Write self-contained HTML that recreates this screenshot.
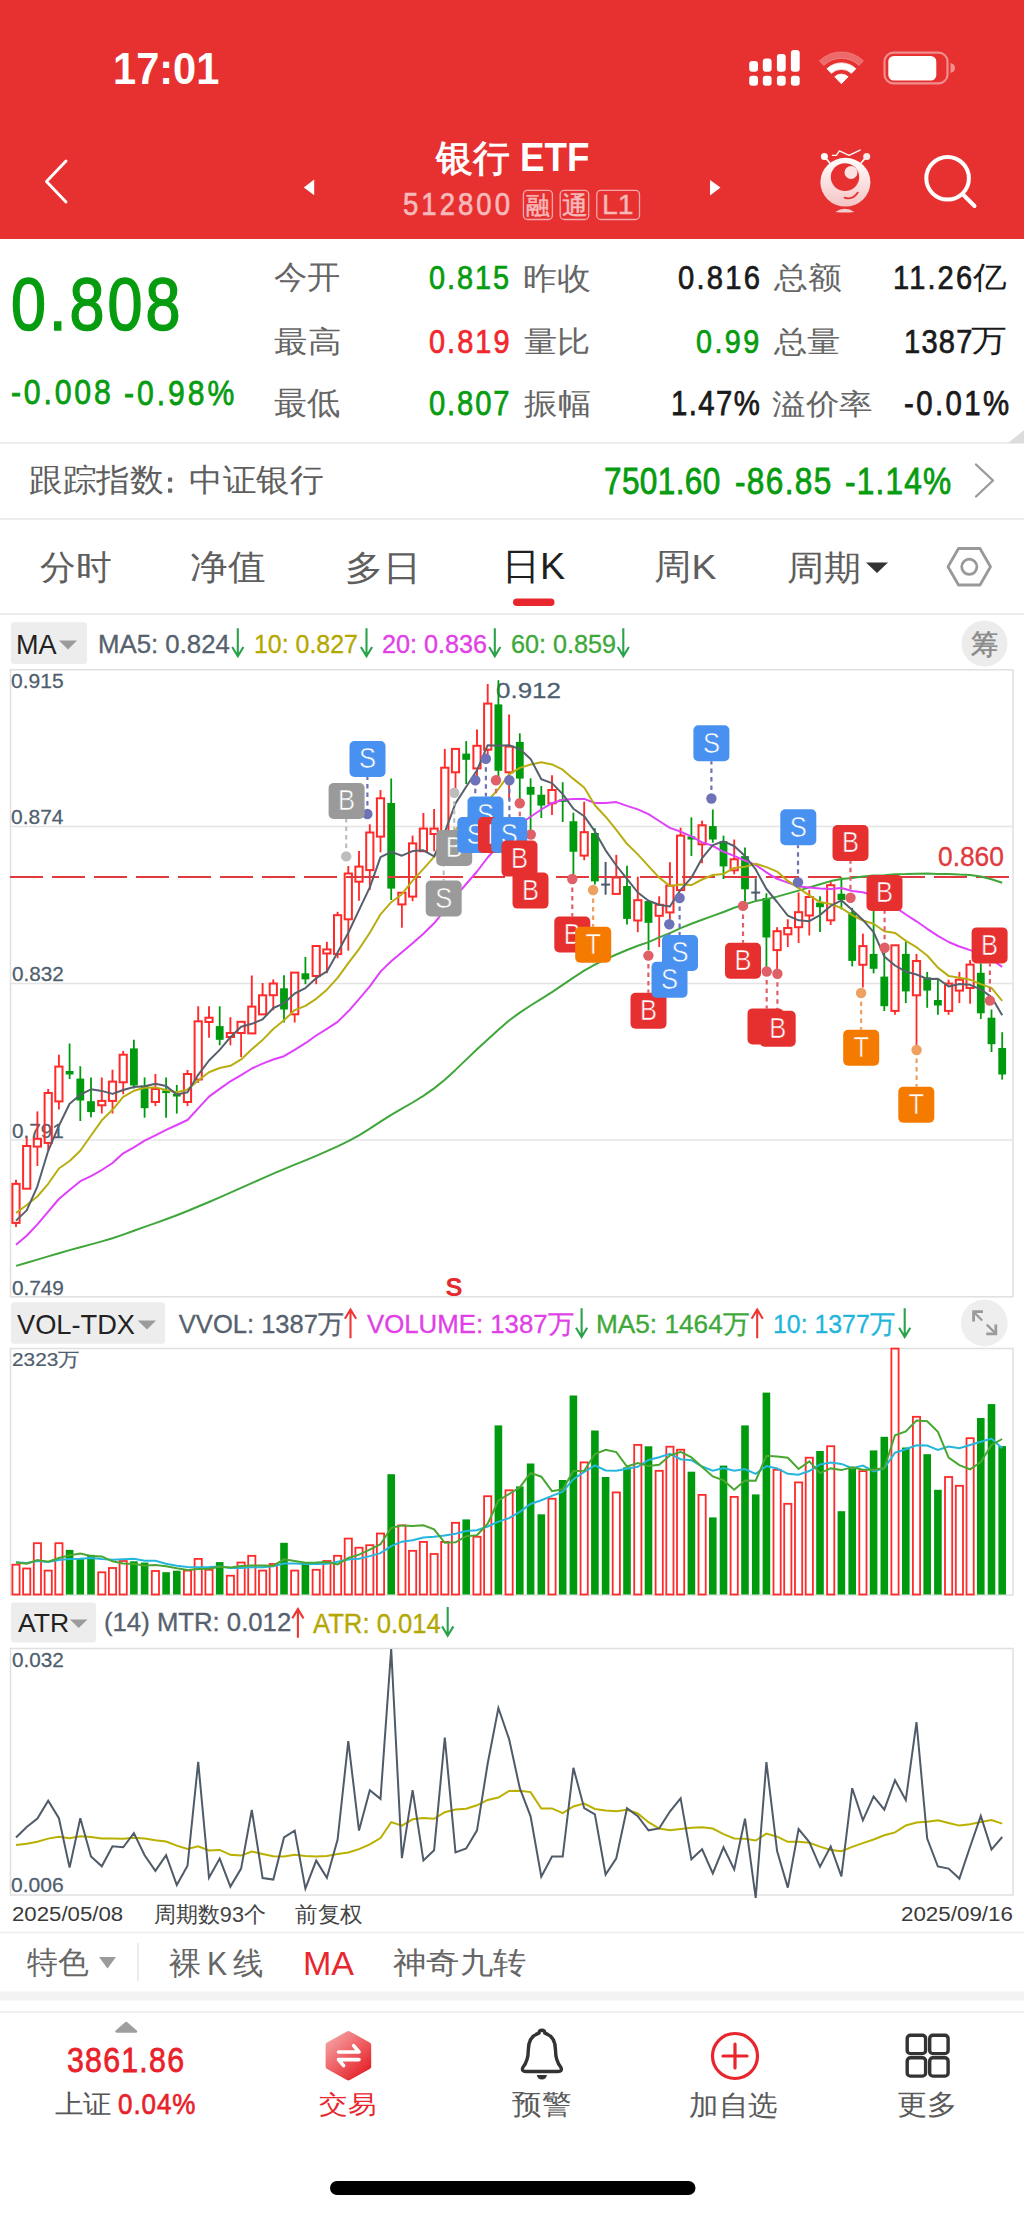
<!DOCTYPE html>
<html><head><meta charset="utf-8"><style>
html,body{margin:0;padding:0;background:#fff;}
body{width:1024px;height:2217px;position:relative;overflow:hidden;font-family:"Liberation Sans",sans-serif;}
.t{position:absolute;white-space:pre;transform-origin:0 0;}
svg{position:absolute;left:0;top:0;}
</style></head><body>
<div style="position:absolute;left:0;top:0;width:1024px;height:239px;background:#e73131"></div>
<svg width="1024" height="2217" viewBox="0 0 1024 2217">
<rect x="749.2" y="61" width="8.8" height="10.7" rx="3" fill="#fff"/>
<rect x="749.2" y="75.7" width="8.8" height="10" rx="3" fill="#fff"/>
<rect x="762.8" y="58.6" width="8.8" height="13.1" rx="3" fill="#fff"/>
<rect x="762.8" y="75.7" width="8.8" height="10" rx="3" fill="#fff"/>
<rect x="776.9" y="54.1" width="8.8" height="17.6" rx="3" fill="#fff"/>
<rect x="776.9" y="75.7" width="8.8" height="10" rx="3" fill="#fff"/>
<rect x="790.9" y="49.9" width="8.8" height="21.8" rx="3" fill="#fff"/>
<rect x="790.9" y="75.7" width="8.8" height="10" rx="3" fill="#fff"/>
<path d="M819.31,60.82 A31.8,31.8 0 0 1 863.49,60.82 L858.97,65.50 A25.3,25.3 0 0 0 823.83,65.50 Z" fill="rgba(255,255,255,0.28)" stroke="rgba(255,255,255,0.28)" stroke-width="0.8" stroke-linejoin="round"/>
<path d="M826.95,68.74 A20.8,20.8 0 0 1 855.85,68.74 L851.40,73.34 A14.4,14.4 0 0 0 831.40,73.34 Z" fill="#fff" stroke="#fff" stroke-width="0.8" stroke-linejoin="round"/>
<path d="M834.73,76.79 A9.6,9.6 0 0 1 848.07,76.79 L841.4,83.7 Z" fill="#fff" stroke="#fff" stroke-width="0.8" stroke-linejoin="round"/>
<rect x="884.5" y="52.6" width="63" height="30.8" rx="9" fill="none" stroke="rgba(255,255,255,0.45)" stroke-width="2.2"/>
<rect x="888.3" y="56" width="48" height="24.5" rx="5.5" fill="#fff"/>
<path d="M950.5,63 Q955,64 955,68 Q955,72 950.5,73 Z" fill="rgba(255,255,255,0.45)"/>
<path d="M66,161 L46.5,181.5 L66,202" fill="none" stroke="#fff" stroke-width="2.9" stroke-linecap="round" stroke-linejoin="round"/>
<path d="M303.8,187.4 L314.2,179.6 L314.2,195.3 Z" fill="#fff"/>
<path d="M720.5,187.6 L710,179.9 L710,195.4 Z" fill="#fff"/>
<rect x="523.4" y="190.3" width="29.0" height="29.2" rx="4" fill="none" stroke="#f3a9ab" stroke-width="1.3"/>
<rect x="560.2" y="190.3" width="28.5" height="29.2" rx="4" fill="none" stroke="#f3a9ab" stroke-width="1.3"/>
<rect x="596.8000000000001" y="190.3" width="42.7" height="29.2" rx="4" fill="none" stroke="#f3a9ab" stroke-width="1.3"/>
<defs><linearGradient id="rg" x1="0" y1="0" x2="0" y2="1"><stop offset="0" stop-color="#ffffff"/><stop offset="1" stop-color="#f6c3c4"/></linearGradient></defs>
<line x1="824.4" y1="156.4" x2="831" y2="164.5" stroke="#fff" stroke-width="1.7"/><line x1="866.7" y1="156.4" x2="859.8" y2="164.5" stroke="#fff" stroke-width="1.7"/>
<circle cx="824.4" cy="156.4" r="3.5" fill="#fff"/><circle cx="866.7" cy="156.4" r="3.5" fill="#f9eaea"/>
<path d="M831.9,155.4 L836.3,155.4 L839.4,150.9 L849,155.4 L860.6,149.9" fill="none" stroke="#fff" stroke-width="1.3" stroke-linejoin="round"/>
<ellipse cx="845.4" cy="182.2" rx="25" ry="24.4" fill="url(#rg)"/>
<ellipse cx="845" cy="177.1" rx="14.2" ry="13.9" fill="#e73131"/>
<circle cx="851" cy="172.5" r="6.5" fill="#fbe3e3"/>
<path d="M844.5,197.6 Q852.5,200.5 857.8,192.6" fill="none" stroke="#e73131" stroke-width="1.8" stroke-linecap="round"/>
<path d="M835.3,212 Q844.8,205.5 854.4,212 Q844.8,213.2 835.3,212 Z" fill="#f5cdce"/>
<circle cx="947.6" cy="178.3" r="21.3" fill="none" stroke="#fff" stroke-width="4"/>
<line x1="963.5" y1="195" x2="974.5" y2="206" stroke="#fff" stroke-width="4" stroke-linecap="round"/>
<line x1="0" y1="443" x2="1024" y2="443" stroke="#ececec" stroke-width="2"/>
<path d="M1024,430 L1024,443 L1008,443 Z" fill="#dcdcdc"/>
<line x1="0" y1="519" x2="1024" y2="519" stroke="#ececec" stroke-width="2"/>
<rect x="168" y="477.5" width="4.2" height="4.2" rx="0.8" fill="#666"/><rect x="168" y="488.5" width="4.2" height="4.2" rx="0.8" fill="#666"/>
<line x1="0" y1="614" x2="1024" y2="614" stroke="#ececec" stroke-width="1.8"/>
<path d="M976,464.5 L993,480.5 L976,496.5" fill="none" stroke="#9a9a9a" stroke-width="2.4" stroke-linecap="round" stroke-linejoin="round"/>
<rect x="513" y="598.5" width="41.5" height="7.5" rx="3.75" fill="#e8262d"/>
<path d="M866,562.5 L888,562.5 L877,573 Z" fill="#333"/>
<path d="M958.5,548.5 L980,548.5 L990.5,566.8 L980,585 L958.5,585 L948,566.8 Z" fill="none" stroke="#999" stroke-width="2.8" stroke-linejoin="round"/>
<circle cx="969.3" cy="566.8" r="7.6" fill="none" stroke="#999" stroke-width="2.8"/>
<rect x="11" y="622.3" width="76" height="41.8" rx="3" fill="#ededed"/>
<path d="M59,640.5 L77,640.5 L68,649.5 Z" fill="#9b9b9b"/>
<circle cx="984.5" cy="643.5" r="23" fill="#ececec"/>
<path d="M237.8,628.3 L237.8,656.0 M232.20000000000002,647.0 L237.8,656.3 L243.4,647.0" fill="none" stroke="#2aa24a" stroke-width="2.1"/>
<path d="M366.5,628.3 L366.5,656.0 M360.9,647.0 L366.5,656.3 L372.1,647.0" fill="none" stroke="#2aa24a" stroke-width="2.1"/>
<path d="M494.8,628.3 L494.8,656.0 M489.2,647.0 L494.8,656.3 L500.40000000000003,647.0" fill="none" stroke="#2aa24a" stroke-width="2.1"/>
<path d="M623.3,628.3 L623.3,656.0 M617.6999999999999,647.0 L623.3,656.3 L628.9,647.0" fill="none" stroke="#2aa24a" stroke-width="2.1"/>
<rect x="11" y="1302.3" width="154" height="41.5" rx="3" fill="#ededed"/>
<path d="M137.8,1320.5 L156,1320.5 L147,1329.5 Z" fill="#9b9b9b"/>
<path d="M350.5,1338.2 L350.5,1309.8 M344.9,1318.8 L350.5,1309.5 L356.1,1318.8" fill="none" stroke="#f03535" stroke-width="2.1"/>
<path d="M581.6,1308.3 L581.6,1336.7 M576.0,1327.7 L581.6,1337.0 L587.2,1327.7" fill="none" stroke="#2aa24a" stroke-width="2.1"/>
<path d="M757.2,1338.2 L757.2,1309.8 M751.6,1318.8 L757.2,1309.5 L762.8000000000001,1318.8" fill="none" stroke="#f03535" stroke-width="2.1"/>
<path d="M904.7,1308.3 L904.7,1336.7 M899.1,1327.7 L904.7,1337.0 L910.3000000000001,1327.7" fill="none" stroke="#2aa24a" stroke-width="2.1"/>
<circle cx="984.3" cy="1323" r="23.4" fill="#eeeeee"/>
<path d="M974,1312.2 L982.2,1320.6 M994.9,1332.6 L986.7,1324.6" fill="none" stroke="#9a9a9a" stroke-width="2.2"/>
<path d="M973.6,1321.4 L973.6,1311.6 L983,1311.6 M986.2,1333.8 L995.8,1333.8 L995.8,1324.4" fill="none" stroke="#9a9a9a" stroke-width="2.8"/>
<rect x="11" y="1602.5" width="85" height="40" rx="3" fill="#ededed"/>
<path d="M70,1619.5 L87.5,1619.5 L78.7,1628 Z" fill="#9b9b9b"/>
<path d="M297.9,1637.8 L297.9,1609.4 M292.29999999999995,1618.4 L297.9,1609.1000000000001 L303.5,1618.4" fill="none" stroke="#f03535" stroke-width="2.1"/>
<path d="M447.7,1607 L447.7,1635.4 M442.09999999999997,1626.4 L447.7,1635.7 L453.3,1626.4" fill="none" stroke="#2aa24a" stroke-width="2.1"/>
<line x1="0" y1="1932.5" x2="1024" y2="1932.5" stroke="#ececec" stroke-width="1.5"/>
<path d="M99,1957 L116,1957 L107.5,1968.5 Z" fill="#9b9b9b"/>
<line x1="138" y1="1943" x2="138" y2="1981" stroke="#e6e6e6" stroke-width="1.5"/>
<rect x="0" y="1991.5" width="1024" height="9" fill="#f3f3f3"/>
<line x1="0" y1="2012" x2="1024" y2="2012" stroke="#efefef" stroke-width="2"/>
<path d="M116.5,2031.5 L136,2031.5 L126.2,2023 Z" fill="#9e9e9e" stroke="#9e9e9e" stroke-width="2.5" stroke-linejoin="round"/>
<defs><linearGradient id="tg" x1="0.15" y1="0.1" x2="0.85" y2="0.95"><stop offset="0" stop-color="#f39597"/><stop offset="0.5" stop-color="#ee5d61"/><stop offset="1" stop-color="#e4262c"/></linearGradient></defs>
<path d="M348.4,2034 L368.2,2045.2 L368.2,2066.5 L348.4,2077.5 L328.6,2066.5 L328.6,2045.2 Z" fill="url(#tg)" stroke="url(#tg)" stroke-width="6" stroke-linejoin="round"/>
<path d="M338.5,2052 L359,2052 L353.6,2045.6 M359,2059.6 L338.5,2059.6 L343.6,2065.6" fill="none" stroke="#fff" stroke-width="3.6" stroke-linecap="round" stroke-linejoin="round"/>
<path d="M526,2071.5 L558,2071.5 Q562.5,2071.5 561,2067.5 Q555.5,2061 555.5,2050 Q555.5,2036.5 544.8,2033.2 Q544.8,2030.3 541.9,2030.3 Q539,2030.3 539,2033.2 Q528.3,2036.5 528.3,2050 Q528.3,2061 522.8,2067.5 Q521.3,2071.5 526,2071.5 Z" fill="none" stroke="#333" stroke-width="3.4" stroke-linejoin="round"/>
<path d="M536.8,2075 L547,2075 Q546,2079.5 541.9,2079.5 Q537.8,2079.5 536.8,2075 Z" fill="#333"/>
<circle cx="735" cy="2056" r="22.5" fill="none" stroke="#e8262d" stroke-width="3.2"/>
<path d="M735,2044 L735,2068 M723,2056 L747,2056" stroke="#e8262d" stroke-width="3.2" stroke-linecap="round"/>
<rect x="907.2" y="2035.2" width="18.4" height="18.4" rx="3.2" fill="none" stroke="#333" stroke-width="3.4"/>
<rect x="929.7" y="2035.2" width="18.4" height="18.4" rx="3.2" fill="none" stroke="#333" stroke-width="3.4"/>
<rect x="907.2" y="2057.7" width="18.4" height="18.4" rx="3.2" fill="none" stroke="#333" stroke-width="3.4"/>
<rect x="929.7" y="2057.7" width="18.4" height="18.4" rx="3.2" fill="none" stroke="#333" stroke-width="3.4"/>
<rect x="330" y="2181" width="365.5" height="14" rx="7" fill="#000"/>
</svg>
<div class="t" style="left:112.50px;top:46.22px;font-size:45.21px;line-height:45.21px;color:#fff;font-weight:700;transform:scaleX(0.9200);">17:01</div>
<div class="t" style="left:436.46px;top:139.61px;font-size:37.00px;line-height:37.00px;color:#fff;font-weight:400;transform:scaleX(0.9940);-webkit-text-stroke:0.9px #fff;">银行</div>
<div class="t" style="left:519.80px;top:137.84px;font-size:39.72px;line-height:39.72px;color:#fff;font-weight:700;transform:scaleX(0.9243);">ETF</div>
<div class="t" style="left:402.90px;top:187.58px;font-size:32.11px;line-height:32.11px;color:#f7b9ba;font-weight:400;transform:scaleX(0.8568);letter-spacing:3.55px;-webkit-text-stroke:0.71px #f7b9ba;">512800</div>
<div class="t" style="left:525.52px;top:193.38px;font-size:25.00px;line-height:25.00px;color:#f7b9ba;font-weight:400;transform:scaleX(0.9501);-webkit-text-stroke:0.5px #f7b9ba;">融</div>
<div class="t" style="left:561.98px;top:193.00px;font-size:25.00px;line-height:25.00px;color:#f7b9ba;font-weight:400;transform:scaleX(1.0323);-webkit-text-stroke:0.5px #f7b9ba;">通</div>
<div class="t" style="left:601.73px;top:190.59px;font-size:27.54px;line-height:27.54px;color:#f7b9ba;font-weight:400;transform:scaleX(1.0323);-webkit-text-stroke:0.33px #f7b9ba;">L1</div>
<div class="t" style="left:11.37px;top:269.01px;font-size:73.24px;line-height:73.24px;color:#079c10;font-weight:400;transform:scaleX(0.8574);letter-spacing:3.58px;-webkit-text-stroke:1.61px #079c10;">0.808</div>
<div class="t" style="left:11.29px;top:373.72px;font-size:35.21px;line-height:35.21px;color:#079c10;font-weight:400;transform:scaleX(0.8600);letter-spacing:3.24px;-webkit-text-stroke:0.77px #079c10;">-0.008</div>
<div class="t" style="left:123.79px;top:374.72px;font-size:35.21px;line-height:35.21px;color:#079c10;font-weight:400;transform:scaleX(0.8561);letter-spacing:3.46px;-webkit-text-stroke:0.77px #079c10;">-0.98%</div>
<div class="t" style="left:273.65px;top:260.71px;font-size:32.29px;line-height:32.29px;color:#666666;font-weight:400;transform:scaleX(1.0404);">今开</div>
<div class="t" style="left:428.63px;top:261.43px;font-size:33.80px;line-height:33.80px;color:#079c10;font-weight:400;transform:scaleX(0.8546);letter-spacing:2.30px;-webkit-text-stroke:0.74px #079c10;">0.815</div>
<div class="t" style="left:273.64px;top:327.05px;font-size:30.30px;line-height:30.30px;color:#666666;font-weight:400;transform:scaleX(1.1204);">最高</div>
<div class="t" style="left:428.63px;top:325.43px;font-size:33.80px;line-height:33.80px;color:#f0282d;font-weight:400;transform:scaleX(0.8546);letter-spacing:2.39px;-webkit-text-stroke:0.74px #f0282d;">0.819</div>
<div class="t" style="left:273.65px;top:387.31px;font-size:32.26px;line-height:32.26px;color:#666666;font-weight:400;transform:scaleX(1.0362);">最低</div>
<div class="t" style="left:428.63px;top:386.13px;font-size:34.15px;line-height:34.15px;color:#079c10;font-weight:400;transform:scaleX(0.8546);letter-spacing:2.18px;-webkit-text-stroke:0.75px #079c10;">0.807</div>
<div class="t" style="left:522.53px;top:262.75px;font-size:31.25px;line-height:31.25px;color:#666666;font-weight:400;transform:scaleX(1.0963);">昨收</div>
<div class="t" style="left:677.63px;top:261.43px;font-size:33.80px;line-height:33.80px;color:#1a1a1a;font-weight:400;transform:scaleX(0.8644);letter-spacing:2.58px;-webkit-text-stroke:0.74px #1a1a1a;">0.816</div>
<div class="t" style="left:523.92px;top:327.15px;font-size:30.21px;line-height:30.21px;color:#666666;font-weight:400;transform:scaleX(1.1052);">量比</div>
<div class="t" style="left:695.64px;top:325.43px;font-size:33.80px;line-height:33.80px;color:#079c10;font-weight:400;transform:scaleX(0.8517);letter-spacing:2.84px;-webkit-text-stroke:0.74px #079c10;">0.99</div>
<div class="t" style="left:524.22px;top:389.04px;font-size:30.21px;line-height:30.21px;color:#666666;font-weight:400;transform:scaleX(1.1167);">振幅</div>
<div class="t" style="left:670.70px;top:386.13px;font-size:34.15px;line-height:34.15px;color:#1a1a1a;font-weight:400;transform:scaleX(0.8590);letter-spacing:1.62px;-webkit-text-stroke:0.75px #1a1a1a;">1.47%</div>
<div class="t" style="left:773.83px;top:263.00px;font-size:30.00px;line-height:30.00px;color:#666666;font-weight:400;transform:scaleX(1.1269);">总额</div>
<div class="t" style="left:773.83px;top:327.15px;font-size:29.90px;line-height:29.90px;color:#666666;font-weight:400;transform:scaleX(1.1082);">总量</div>
<div class="t" style="left:772.16px;top:389.25px;font-size:29.29px;line-height:29.29px;color:#666666;font-weight:400;transform:scaleX(1.1576);">溢价率</div>
<div class="t" style="left:892.97px;top:261.43px;font-size:33.80px;line-height:33.80px;color:#1a1a1a;font-weight:400;transform:scaleX(0.8600);letter-spacing:2.47px;-webkit-text-stroke:0.74px #1a1a1a;">11.26</div>
<div class="t" style="left:973.34px;top:261.97px;font-size:31.00px;line-height:31.00px;color:#1a1a1a;font-weight:400;transform:scaleX(1.0814);">亿</div>
<div class="t" style="left:903.97px;top:325.43px;font-size:33.80px;line-height:33.80px;color:#1a1a1a;font-weight:400;transform:scaleX(0.8600);letter-spacing:1.44px;-webkit-text-stroke:0.74px #1a1a1a;">1387</div>
<div class="t" style="left:971.13px;top:324.76px;font-size:31.00px;line-height:31.00px;color:#1a1a1a;font-weight:400;transform:scaleX(1.1556);">万</div>
<div class="t" style="left:903.82px;top:386.13px;font-size:34.15px;line-height:34.15px;color:#1a1a1a;font-weight:400;transform:scaleX(0.8601);letter-spacing:2.78px;-webkit-text-stroke:0.75px #1a1a1a;">-0.01%</div>
<div class="t" style="left:28.52px;top:463.89px;font-size:32.00px;line-height:32.00px;color:#5e5e5e;font-weight:400;transform:scaleX(1.0527);">跟踪指数</div>
<div class="t" style="left:189.07px;top:463.89px;font-size:32.00px;line-height:32.00px;color:#5e5e5e;font-weight:400;transform:scaleX(1.0504);">中证银行</div>
<div class="t" style="left:603.81px;top:462.64px;font-size:37.04px;line-height:37.04px;color:#079c10;font-weight:400;transform:scaleX(0.8525);letter-spacing:0.41px;-webkit-text-stroke:0.81px #079c10;">7501.60</div>
<div class="t" style="left:735.33px;top:462.64px;font-size:37.04px;line-height:37.04px;color:#079c10;font-weight:400;transform:scaleX(0.8528);letter-spacing:1.56px;-webkit-text-stroke:0.81px #079c10;">-86.85</div>
<div class="t" style="left:845.23px;top:462.64px;font-size:37.04px;line-height:37.04px;color:#079c10;font-weight:400;transform:scaleX(0.8551);letter-spacing:1.39px;-webkit-text-stroke:0.81px #079c10;">-1.14%</div>
<div class="t" style="left:39.64px;top:550.32px;font-size:34.02px;line-height:34.02px;color:#5e5e5e;font-weight:400;transform:scaleX(1.0498);">分时</div>
<div class="t" style="left:190.37px;top:549.61px;font-size:34.74px;line-height:34.74px;color:#5e5e5e;font-weight:400;transform:scaleX(1.0760);">净值</div>
<div class="t" style="left:344.58px;top:550.96px;font-size:34.74px;line-height:34.74px;color:#5e5e5e;font-weight:400;transform:scaleX(1.0919);">多日</div>
<div class="t" style="left:501.83px;top:549.07px;font-size:36.67px;line-height:36.67px;color:#1f1f1f;font-weight:400;transform:scaleX(1.0298);">日K</div>
<div class="t" style="left:653.86px;top:549.85px;font-size:35.87px;line-height:35.87px;color:#5e5e5e;font-weight:400;transform:scaleX(1.0436);">周K</div>
<div class="t" style="left:787.40px;top:550.96px;font-size:34.74px;line-height:34.74px;color:#5e5e5e;font-weight:400;transform:scaleX(1.0608);">周期</div>
<div class="t" style="left:15.73px;top:632.09px;font-size:26.96px;line-height:26.96px;color:#222;font-weight:400;transform:scaleX(1.0038);">MA</div>
<div class="t" style="left:97.74px;top:631.47px;font-size:26.20px;line-height:26.20px;color:#56616e;font-weight:400;transform:scaleX(0.9848);-webkit-text-stroke:0.32px #56616e;">MA5: 0.824</div>
<div class="t" style="left:254.06px;top:631.47px;font-size:26.20px;line-height:26.20px;color:#b3a800;font-weight:400;transform:scaleX(0.9509);-webkit-text-stroke:0.32px #b3a800;">10: 0.827</div>
<div class="t" style="left:381.74px;top:631.47px;font-size:26.20px;line-height:26.20px;color:#e040e6;font-weight:400;transform:scaleX(0.9627);-webkit-text-stroke:0.32px #e040e6;">20: 0.836</div>
<div class="t" style="left:510.74px;top:631.47px;font-size:26.20px;line-height:26.20px;color:#3ea83a;font-weight:400;transform:scaleX(0.9622);-webkit-text-stroke:0.32px #3ea83a;">60: 0.859</div>
<div class="t" style="left:971.32px;top:631.01px;font-size:28.00px;line-height:28.00px;color:#8a8a8a;font-weight:400;transform:scaleX(0.9706);-webkit-text-stroke:0.5px #8a8a8a;">筹</div>
<div class="t" style="left:11.17px;top:669.83px;font-size:21.13px;line-height:21.13px;color:#4f5e6e;font-weight:400;transform:scaleX(0.9967);-webkit-text-stroke:0.26px #4f5e6e;">0.915</div>
<div class="t" style="left:11.17px;top:806.33px;font-size:21.13px;line-height:21.13px;color:#4f5e6e;font-weight:400;transform:scaleX(0.9926);-webkit-text-stroke:0.26px #4f5e6e;">0.874</div>
<div class="t" style="left:12.17px;top:962.83px;font-size:21.13px;line-height:21.13px;color:#4f5e6e;font-weight:400;transform:scaleX(0.9816);-webkit-text-stroke:0.26px #4f5e6e;">0.832</div>
<div class="t" style="left:12.17px;top:1119.83px;font-size:21.13px;line-height:21.13px;color:#4f5e6e;font-weight:400;transform:scaleX(0.9816);-webkit-text-stroke:0.26px #4f5e6e;">0.791</div>
<div class="t" style="left:12.17px;top:1276.83px;font-size:21.13px;line-height:21.13px;color:#4f5e6e;font-weight:400;transform:scaleX(0.9816);-webkit-text-stroke:0.26px #4f5e6e;">0.749</div>
<div class="t" style="left:496.32px;top:679.73px;font-size:21.83px;line-height:21.83px;color:#4f5e6e;font-weight:400;transform:scaleX(1.1894);-webkit-text-stroke:0.26px #4f5e6e;">0.912</div>
<div class="t" style="left:938.41px;top:842.98px;font-size:27.46px;line-height:27.46px;color:#e0393e;font-weight:400;transform:scaleX(0.9595);-webkit-text-stroke:0.33px #e0393e;">0.860</div>
<div class="t" style="left:16.90px;top:1312.14px;font-size:27.04px;line-height:27.04px;color:#222;font-weight:400;transform:scaleX(1.0074);">VOL-TDX</div>
<div class="t" style="left:178.80px;top:1312.20px;font-size:25.56px;line-height:25.56px;color:#56616e;font-weight:400;-webkit-text-stroke:0.31px #56616e;">VVOL: 1387万</div>
<div class="t" style="left:366.80px;top:1312.20px;font-size:25.56px;line-height:25.56px;color:#e040e6;font-weight:400;transform:scaleX(1.0093);-webkit-text-stroke:0.31px #e040e6;">VOLUME: 1387万</div>
<div class="t" style="left:595.80px;top:1312.20px;font-size:25.56px;line-height:25.56px;color:#3ea83a;font-weight:400;transform:scaleX(1.0254);-webkit-text-stroke:0.31px #3ea83a;">MA5: 1464万</div>
<div class="t" style="left:773.36px;top:1312.20px;font-size:25.56px;line-height:25.56px;color:#22b5db;font-weight:400;transform:scaleX(0.9728);-webkit-text-stroke:0.31px #22b5db;">10: 1377万</div>
<div class="t" style="left:11.76px;top:1351.03px;font-size:18.56px;line-height:18.56px;color:#4f5e6e;font-weight:400;transform:scaleX(1.1212);-webkit-text-stroke:0.22px #4f5e6e;">2323万</div>
<div class="t" style="left:17.50px;top:1610.09px;font-size:26.06px;line-height:26.06px;color:#222;font-weight:400;transform:scaleX(1.0187);">ATR</div>
<div class="t" style="left:103.85px;top:1609.60px;font-size:25.00px;line-height:25.00px;color:#56616e;font-weight:400;transform:scaleX(1.0287);-webkit-text-stroke:0.30px #56616e;">(14) MTR: 0.012</div>
<div class="t" style="left:312.70px;top:1610.32px;font-size:27.18px;line-height:27.18px;color:#b3a800;font-weight:400;transform:scaleX(0.9439);-webkit-text-stroke:0.33px #b3a800;">ATR: 0.014</div>
<div class="t" style="left:12.17px;top:1648.83px;font-size:21.13px;line-height:21.13px;color:#4f5e6e;font-weight:400;transform:scaleX(0.9816);-webkit-text-stroke:0.26px #4f5e6e;">0.032</div>
<div class="t" style="left:11.17px;top:1873.83px;font-size:21.13px;line-height:21.13px;color:#4f5e6e;font-weight:400;transform:scaleX(0.9967);-webkit-text-stroke:0.26px #4f5e6e;">0.006</div>
<div class="t" style="left:11.79px;top:1903.57px;font-size:20.27px;line-height:20.27px;color:#3a3a3a;font-weight:400;transform:scaleX(1.0953);">2025/05/08</div>
<div class="t" style="left:153.85px;top:1904.35px;font-size:21.65px;line-height:21.65px;color:#444;font-weight:400;">周期数93个</div>
<div class="t" style="left:294.77px;top:1903.83px;font-size:22.40px;line-height:22.40px;color:#444;font-weight:400;transform:scaleX(1.0230);">前复权</div>
<div class="t" style="left:900.88px;top:1903.57px;font-size:20.27px;line-height:20.27px;color:#3a3a3a;font-weight:400;transform:scaleX(1.1033);">2025/09/16</div>
<div class="t" style="left:26.90px;top:1946.56px;font-size:31.25px;line-height:31.25px;color:#666;font-weight:400;transform:scaleX(0.9954);">特色</div>
<div class="t" style="left:168.87px;top:1948.00px;font-size:31.00px;line-height:31.00px;color:#666;font-weight:400;transform:scaleX(1.0372);">裸</div>
<div class="t" style="left:207.19px;top:1948.46px;font-size:32.75px;line-height:32.75px;color:#666;font-weight:400;transform:scaleX(0.9219);">K</div>
<div class="t" style="left:233.39px;top:1948.00px;font-size:31.00px;line-height:31.00px;color:#666;font-weight:400;transform:scaleX(0.9783);">线</div>
<div class="t" style="left:303.28px;top:1948.46px;font-size:32.75px;line-height:32.75px;color:#e8262d;font-weight:400;transform:scaleX(1.0387);">MA</div>
<div class="t" style="left:393.08px;top:1948.20px;font-size:30.30px;line-height:30.30px;color:#666;font-weight:400;transform:scaleX(1.1109);">神奇九转</div>
<div class="t" style="left:66.59px;top:2042.22px;font-size:35.21px;line-height:35.21px;color:#e8212a;font-weight:400;transform:scaleX(0.8600);letter-spacing:1.46px;-webkit-text-stroke:0.77px #e8212a;">3861.86</div>
<div class="t" style="left:54.68px;top:2091.48px;font-size:26.11px;line-height:26.11px;color:#555;font-weight:400;transform:scaleX(1.0957);">上证</div>
<div class="t" style="left:118.22px;top:2089.46px;font-size:30.28px;line-height:30.28px;color:#e8212a;font-weight:400;transform:scaleX(0.8600);letter-spacing:1.08px;-webkit-text-stroke:0.67px #e8212a;">0.04%</div>
<div class="t" style="left:319.43px;top:2093.00px;font-size:24.75px;line-height:24.75px;color:#e8262d;font-weight:400;transform:scaleX(1.1426);">交易</div>
<div class="t" style="left:511.70px;top:2091.38px;font-size:28.12px;line-height:28.12px;color:#5a5a5a;font-weight:400;transform:scaleX(1.0559);">预警</div>
<div class="t" style="left:689.11px;top:2091.94px;font-size:28.12px;line-height:28.12px;color:#5a5a5a;font-weight:400;transform:scaleX(1.0549);">加自选</div>
<div class="t" style="left:896.91px;top:2090.67px;font-size:27.55px;line-height:27.55px;color:#5a5a5a;font-weight:400;transform:scaleX(1.0757);">更多</div>
<svg width="1024" height="2217" viewBox="0 0 1024 2217">
<line x1="10" y1="826.5" x2="1013" y2="826.5" stroke="#e4e4e4" stroke-width="1.5"/>
<line x1="10" y1="983.5" x2="1013" y2="983.5" stroke="#e4e4e4" stroke-width="1.5"/>
<line x1="10" y1="1140" x2="1013" y2="1140" stroke="#e4e4e4" stroke-width="1.5"/>
<rect x="10.5" y="669.8" width="1002.5" height="627" fill="none" stroke="#e0e0e0" stroke-width="1.5"/>
<line x1="16.0" y1="1179.8" x2="16.0" y2="1183.9" stroke="#ff2a2a" stroke-width="1.9"/>
<line x1="16.0" y1="1222.9" x2="16.0" y2="1227" stroke="#ff2a2a" stroke-width="1.8"/>
<rect x="12.4" y="1183.9" width="7.2" height="39.0" fill="none" stroke="#ff2a2a" stroke-width="2"/>
<line x1="26.7" y1="1137.4" x2="26.7" y2="1146" stroke="#ff2a2a" stroke-width="1.9"/>
<line x1="26.7" y1="1188.7" x2="26.7" y2="1188.7" stroke="#ff2a2a" stroke-width="1.8"/>
<rect x="23.1" y="1146" width="7.2" height="42.7" fill="none" stroke="#ff2a2a" stroke-width="2"/>
<line x1="37.4" y1="1111.4" x2="37.4" y2="1138.8" stroke="#ff2a2a" stroke-width="1.9"/>
<line x1="37.4" y1="1146.6" x2="37.4" y2="1166" stroke="#ff2a2a" stroke-width="1.8"/>
<rect x="33.8" y="1138.8" width="7.2" height="7.8" fill="none" stroke="#ff2a2a" stroke-width="2"/>
<line x1="48.2" y1="1088.9" x2="48.2" y2="1093" stroke="#ff2a2a" stroke-width="1.9"/>
<line x1="48.2" y1="1142.9" x2="48.2" y2="1150.4" stroke="#ff2a2a" stroke-width="1.8"/>
<rect x="44.6" y="1093" width="7.2" height="49.9" fill="none" stroke="#ff2a2a" stroke-width="2"/>
<line x1="58.9" y1="1054.7" x2="58.9" y2="1066.6" stroke="#ff2a2a" stroke-width="1.9"/>
<line x1="58.9" y1="1101.4" x2="58.9" y2="1109.4" stroke="#ff2a2a" stroke-width="1.8"/>
<rect x="55.3" y="1066.6" width="7.2" height="34.8" fill="none" stroke="#ff2a2a" stroke-width="2"/>
<line x1="69.6" y1="1043.5" x2="69.6" y2="1079" stroke="#009a0e" stroke-width="1.8"/>
<rect x="65.7" y="1071" width="7.8" height="3.5" fill="#009a0e"/>
<line x1="80.3" y1="1066.3" x2="80.3" y2="1121" stroke="#009a0e" stroke-width="1.8"/>
<rect x="76.4" y="1078.6" width="7.8" height="21.9" fill="#009a0e"/>
<line x1="91.0" y1="1077.5" x2="91.0" y2="1117.3" stroke="#009a0e" stroke-width="1.8"/>
<rect x="87.1" y="1101.2" width="7.8" height="10.9" fill="#009a0e"/>
<line x1="101.8" y1="1077.5" x2="101.8" y2="1100.9" stroke="#ff2a2a" stroke-width="1.9"/>
<line x1="101.8" y1="1105.3" x2="101.8" y2="1113.5" stroke="#ff2a2a" stroke-width="1.8"/>
<rect x="98.2" y="1100.9" width="7.2" height="4.4" fill="none" stroke="#ff2a2a" stroke-width="2"/>
<line x1="112.5" y1="1069.7" x2="112.5" y2="1081.6" stroke="#ff2a2a" stroke-width="1.9"/>
<line x1="112.5" y1="1100.9" x2="112.5" y2="1113.5" stroke="#ff2a2a" stroke-width="1.8"/>
<rect x="108.9" y="1081.6" width="7.2" height="19.3" fill="none" stroke="#ff2a2a" stroke-width="2"/>
<line x1="123.2" y1="1050.9" x2="123.2" y2="1054.7" stroke="#ff2a2a" stroke-width="1.9"/>
<line x1="123.2" y1="1082.3" x2="123.2" y2="1094.3" stroke="#ff2a2a" stroke-width="1.8"/>
<rect x="119.6" y="1054.7" width="7.2" height="27.6" fill="none" stroke="#ff2a2a" stroke-width="2"/>
<line x1="133.9" y1="1039.7" x2="133.9" y2="1088.6" stroke="#009a0e" stroke-width="1.8"/>
<rect x="130.0" y="1048.4" width="7.8" height="37.1" fill="#009a0e"/>
<line x1="144.6" y1="1077.4" x2="144.6" y2="1117.7" stroke="#009a0e" stroke-width="1.8"/>
<rect x="140.7" y="1085.6" width="7.8" height="22.6" fill="#009a0e"/>
<line x1="155.4" y1="1074" x2="155.4" y2="1089" stroke="#ff2a2a" stroke-width="1.9"/>
<line x1="155.4" y1="1102" x2="155.4" y2="1106.1" stroke="#ff2a2a" stroke-width="1.8"/>
<rect x="151.8" y="1089" width="7.2" height="13.0" fill="none" stroke="#ff2a2a" stroke-width="2"/>
<line x1="166.1" y1="1077.4" x2="166.1" y2="1117.7" stroke="#009a0e" stroke-width="1.8"/>
<rect x="162.2" y="1090.4" width="7.8" height="2.7" fill="#009a0e"/>
<line x1="176.8" y1="1084.9" x2="176.8" y2="1113.6" stroke="#009a0e" stroke-width="1.8"/>
<rect x="172.9" y="1093.8" width="7.8" height="2.7" fill="#009a0e"/>
<line x1="187.5" y1="1069.9" x2="187.5" y2="1074" stroke="#ff2a2a" stroke-width="1.9"/>
<line x1="187.5" y1="1102" x2="187.5" y2="1106.1" stroke="#ff2a2a" stroke-width="1.8"/>
<rect x="183.9" y="1074" width="7.2" height="28.0" fill="none" stroke="#ff2a2a" stroke-width="2"/>
<line x1="198.2" y1="1006.3" x2="198.2" y2="1021.3" stroke="#ff2a2a" stroke-width="1.9"/>
<line x1="198.2" y1="1079.5" x2="198.2" y2="1082.9" stroke="#ff2a2a" stroke-width="1.8"/>
<rect x="194.6" y="1021.3" width="7.2" height="58.2" fill="none" stroke="#ff2a2a" stroke-width="2"/>
<line x1="209.0" y1="1006.3" x2="209.0" y2="1017.7" stroke="#ff2a2a" stroke-width="1.9"/>
<line x1="209.0" y1="1022" x2="209.0" y2="1037.8" stroke="#ff2a2a" stroke-width="1.8"/>
<rect x="205.4" y="1017.7" width="7.2" height="4.3" fill="none" stroke="#ff2a2a" stroke-width="2"/>
<line x1="219.7" y1="1006.3" x2="219.7" y2="1045.3" stroke="#009a0e" stroke-width="1.8"/>
<rect x="215.8" y="1026.1" width="7.8" height="13.7" fill="#009a0e"/>
<line x1="230.4" y1="1017.2" x2="230.4" y2="1033" stroke="#ff2a2a" stroke-width="1.9"/>
<line x1="230.4" y1="1037" x2="230.4" y2="1045.3" stroke="#ff2a2a" stroke-width="1.8"/>
<rect x="226.8" y="1033" width="7.2" height="4.0" fill="none" stroke="#ff2a2a" stroke-width="2"/>
<line x1="241.1" y1="1021.8" x2="241.1" y2="1021.8" stroke="#ff2a2a" stroke-width="1.9"/>
<line x1="241.1" y1="1033" x2="241.1" y2="1056.9" stroke="#ff2a2a" stroke-width="1.8"/>
<rect x="237.5" y="1021.8" width="7.2" height="11.2" fill="none" stroke="#ff2a2a" stroke-width="2"/>
<line x1="251.8" y1="975.5" x2="251.8" y2="1006.6" stroke="#ff2a2a" stroke-width="1.9"/>
<line x1="251.8" y1="1033.4" x2="251.8" y2="1033.4" stroke="#ff2a2a" stroke-width="1.8"/>
<rect x="248.2" y="1006.6" width="7.2" height="26.8" fill="none" stroke="#ff2a2a" stroke-width="2"/>
<line x1="262.6" y1="983" x2="262.6" y2="995.3" stroke="#ff2a2a" stroke-width="1.9"/>
<line x1="262.6" y1="1014.4" x2="262.6" y2="1014.4" stroke="#ff2a2a" stroke-width="1.8"/>
<rect x="259.0" y="995.3" width="7.2" height="19.1" fill="none" stroke="#ff2a2a" stroke-width="2"/>
<line x1="273.3" y1="979.4" x2="273.3" y2="983.5" stroke="#ff2a2a" stroke-width="1.9"/>
<line x1="273.3" y1="995.2" x2="273.3" y2="1010.2" stroke="#ff2a2a" stroke-width="1.8"/>
<rect x="269.7" y="983.5" width="7.2" height="11.7" fill="none" stroke="#ff2a2a" stroke-width="2"/>
<line x1="284.0" y1="975.3" x2="284.0" y2="1022.5" stroke="#009a0e" stroke-width="1.8"/>
<rect x="280.1" y="988.3" width="7.8" height="21.2" fill="#009a0e"/>
<line x1="294.7" y1="972.6" x2="294.7" y2="972.6" stroke="#ff2a2a" stroke-width="1.9"/>
<line x1="294.7" y1="1014.3" x2="294.7" y2="1022.5" stroke="#ff2a2a" stroke-width="1.8"/>
<rect x="291.1" y="972.6" width="7.2" height="41.7" fill="none" stroke="#ff2a2a" stroke-width="2"/>
<line x1="305.4" y1="956.9" x2="305.4" y2="984.2" stroke="#009a0e" stroke-width="1.8"/>
<rect x="301.5" y="973.3" width="7.8" height="6.1" fill="#009a0e"/>
<line x1="316.2" y1="946" x2="316.2" y2="946" stroke="#ff2a2a" stroke-width="1.9"/>
<line x1="316.2" y1="976" x2="316.2" y2="984.2" stroke="#ff2a2a" stroke-width="1.8"/>
<rect x="312.6" y="946" width="7.2" height="30.0" fill="none" stroke="#ff2a2a" stroke-width="2"/>
<line x1="326.9" y1="941.8" x2="326.9" y2="949.4" stroke="#ff2a2a" stroke-width="1.9"/>
<line x1="326.9" y1="953.5" x2="326.9" y2="973.3" stroke="#ff2a2a" stroke-width="1.8"/>
<rect x="323.3" y="949.4" width="7.2" height="4.1" fill="none" stroke="#ff2a2a" stroke-width="2"/>
<line x1="337.6" y1="911.8" x2="337.6" y2="915.2" stroke="#ff2a2a" stroke-width="1.9"/>
<line x1="337.6" y1="954.1" x2="337.6" y2="958.2" stroke="#ff2a2a" stroke-width="1.8"/>
<rect x="334.0" y="915.2" width="7.2" height="38.9" fill="none" stroke="#ff2a2a" stroke-width="2"/>
<line x1="348.3" y1="866" x2="348.3" y2="873.5" stroke="#ff2a2a" stroke-width="1.9"/>
<line x1="348.3" y1="919.3" x2="348.3" y2="950.7" stroke="#ff2a2a" stroke-width="1.8"/>
<rect x="344.7" y="873.5" width="7.2" height="45.8" fill="none" stroke="#ff2a2a" stroke-width="2"/>
<line x1="359.0" y1="850.9" x2="359.0" y2="866.6" stroke="#ff2a2a" stroke-width="1.9"/>
<line x1="359.0" y1="881.7" x2="359.0" y2="900.8" stroke="#ff2a2a" stroke-width="1.8"/>
<rect x="355.4" y="866.6" width="7.2" height="15.1" fill="none" stroke="#ff2a2a" stroke-width="2"/>
<line x1="369.8" y1="824.3" x2="369.8" y2="832.5" stroke="#ff2a2a" stroke-width="1.9"/>
<line x1="369.8" y1="870.1" x2="369.8" y2="889.9" stroke="#ff2a2a" stroke-width="1.8"/>
<rect x="366.2" y="832.5" width="7.2" height="37.6" fill="none" stroke="#ff2a2a" stroke-width="2"/>
<line x1="380.5" y1="790.1" x2="380.5" y2="798.3" stroke="#ff2a2a" stroke-width="1.9"/>
<line x1="380.5" y1="836.6" x2="380.5" y2="852.3" stroke="#ff2a2a" stroke-width="1.8"/>
<rect x="376.9" y="798.3" width="7.2" height="38.3" fill="none" stroke="#ff2a2a" stroke-width="2"/>
<line x1="391.2" y1="778.5" x2="391.2" y2="900" stroke="#009a0e" stroke-width="1.8"/>
<rect x="387.3" y="803" width="7.8" height="85.6" fill="#009a0e"/>
<line x1="401.9" y1="892.7" x2="401.9" y2="892.7" stroke="#ff2a2a" stroke-width="1.9"/>
<line x1="401.9" y1="904.4" x2="401.9" y2="927.8" stroke="#ff2a2a" stroke-width="1.8"/>
<rect x="398.3" y="892.7" width="7.2" height="11.7" fill="none" stroke="#ff2a2a" stroke-width="2"/>
<line x1="412.6" y1="835.6" x2="412.6" y2="843.4" stroke="#ff2a2a" stroke-width="1.9"/>
<line x1="412.6" y1="896.6" x2="412.6" y2="901.25" stroke="#ff2a2a" stroke-width="1.8"/>
<rect x="409.0" y="843.4" width="7.2" height="53.2" fill="none" stroke="#ff2a2a" stroke-width="2"/>
<line x1="423.4" y1="813" x2="423.4" y2="828.6" stroke="#ff2a2a" stroke-width="1.9"/>
<line x1="423.4" y1="851.25" x2="423.4" y2="851.25" stroke="#ff2a2a" stroke-width="1.8"/>
<rect x="419.8" y="828.6" width="7.2" height="22.6" fill="none" stroke="#ff2a2a" stroke-width="2"/>
<line x1="434.1" y1="809" x2="434.1" y2="828.6" stroke="#ff2a2a" stroke-width="1.9"/>
<line x1="434.1" y1="834" x2="434.1" y2="851.25" stroke="#ff2a2a" stroke-width="1.8"/>
<rect x="430.5" y="828.6" width="7.2" height="5.4" fill="none" stroke="#ff2a2a" stroke-width="2"/>
<line x1="444.8" y1="748.9" x2="444.8" y2="767.7" stroke="#ff2a2a" stroke-width="1.9"/>
<line x1="444.8" y1="831" x2="444.8" y2="835" stroke="#ff2a2a" stroke-width="1.8"/>
<rect x="441.2" y="767.7" width="7.2" height="63.3" fill="none" stroke="#ff2a2a" stroke-width="2"/>
<line x1="455.5" y1="748.9" x2="455.5" y2="748.9" stroke="#ff2a2a" stroke-width="1.9"/>
<line x1="455.5" y1="772.3" x2="455.5" y2="790.3" stroke="#ff2a2a" stroke-width="1.8"/>
<rect x="451.9" y="748.9" width="7.2" height="23.4" fill="none" stroke="#ff2a2a" stroke-width="2"/>
<line x1="466.2" y1="741.1" x2="466.2" y2="784" stroke="#009a0e" stroke-width="1.8"/>
<rect x="462.3" y="753.6" width="7.8" height="6.2" fill="#009a0e"/>
<line x1="477.0" y1="729.4" x2="477.0" y2="745.8" stroke="#ff2a2a" stroke-width="1.9"/>
<line x1="477.0" y1="768.4" x2="477.0" y2="779.4" stroke="#ff2a2a" stroke-width="1.8"/>
<rect x="473.4" y="745.8" width="7.2" height="22.6" fill="none" stroke="#ff2a2a" stroke-width="2"/>
<line x1="487.7" y1="684" x2="487.7" y2="703.6" stroke="#ff2a2a" stroke-width="1.9"/>
<line x1="487.7" y1="749.7" x2="487.7" y2="760" stroke="#ff2a2a" stroke-width="1.8"/>
<rect x="484.1" y="703.6" width="7.2" height="46.1" fill="none" stroke="#ff2a2a" stroke-width="2"/>
<line x1="498.4" y1="680.2" x2="498.4" y2="777.8" stroke="#009a0e" stroke-width="1.8"/>
<rect x="494.5" y="704.4" width="7.8" height="66.4" fill="#009a0e"/>
<line x1="509.1" y1="714.5" x2="509.1" y2="746.6" stroke="#ff2a2a" stroke-width="1.9"/>
<line x1="509.1" y1="772.3" x2="509.1" y2="800" stroke="#ff2a2a" stroke-width="1.8"/>
<rect x="505.5" y="746.6" width="7.2" height="25.7" fill="none" stroke="#ff2a2a" stroke-width="2"/>
<line x1="519.8" y1="733.3" x2="519.8" y2="799.7" stroke="#009a0e" stroke-width="1.8"/>
<rect x="515.9" y="741.9" width="7.8" height="36.7" fill="#009a0e"/>
<line x1="530.6" y1="778.3" x2="530.6" y2="833.75" stroke="#009a0e" stroke-width="1.8"/>
<rect x="526.7" y="786.9" width="7.8" height="7.8" fill="#009a0e"/>
<line x1="541.3" y1="786" x2="541.3" y2="818" stroke="#009a0e" stroke-width="1.8"/>
<rect x="537.4" y="794.7" width="7.8" height="10.9" fill="#009a0e"/>
<line x1="552.0" y1="775.2" x2="552.0" y2="790" stroke="#ff2a2a" stroke-width="1.9"/>
<line x1="552.0" y1="803.3" x2="552.0" y2="815" stroke="#ff2a2a" stroke-width="1.8"/>
<rect x="548.4" y="790" width="7.2" height="13.3" fill="none" stroke="#ff2a2a" stroke-width="2"/>
<line x1="562.7" y1="782.2" x2="562.7" y2="822" stroke="#009a0e" stroke-width="1.8"/>
<rect x="558.8" y="799.4" width="7.8" height="2.5" fill="#009a0e"/>
<line x1="573.4" y1="812.7" x2="573.4" y2="876" stroke="#009a0e" stroke-width="1.8"/>
<rect x="569.5" y="821.25" width="7.8" height="30.5" fill="#009a0e"/>
<line x1="584.2" y1="801.7" x2="584.2" y2="832.2" stroke="#ff2a2a" stroke-width="1.9"/>
<line x1="584.2" y1="855.6" x2="584.2" y2="860.3" stroke="#ff2a2a" stroke-width="1.8"/>
<rect x="580.6" y="832.2" width="7.2" height="23.4" fill="none" stroke="#ff2a2a" stroke-width="2"/>
<line x1="594.9" y1="828.3" x2="594.9" y2="884.5" stroke="#009a0e" stroke-width="1.8"/>
<rect x="591.0" y="833" width="7.8" height="48.4" fill="#009a0e"/>
<line x1="605.6" y1="861.9" x2="605.6" y2="894.7" stroke="#4d5b6a" stroke-width="2"/>
<line x1="601.1" y1="884.6" x2="610.1" y2="884.6" stroke="#4d5b6a" stroke-width="2"/>
<line x1="616.3" y1="854.8" x2="616.3" y2="877.5" stroke="#ff2a2a" stroke-width="1.9"/>
<line x1="616.3" y1="893.9" x2="616.3" y2="893.9" stroke="#ff2a2a" stroke-width="1.8"/>
<rect x="612.7" y="877.5" width="7.2" height="16.4" fill="none" stroke="#ff2a2a" stroke-width="2"/>
<line x1="627.0" y1="865.8" x2="627.0" y2="924.4" stroke="#009a0e" stroke-width="1.8"/>
<rect x="623.1" y="886" width="7.8" height="32.9" fill="#009a0e"/>
<line x1="637.8" y1="876.7" x2="637.8" y2="900.2" stroke="#ff2a2a" stroke-width="1.9"/>
<line x1="637.8" y1="920.5" x2="637.8" y2="932.2" stroke="#ff2a2a" stroke-width="1.8"/>
<rect x="634.2" y="900.2" width="7.2" height="20.3" fill="none" stroke="#ff2a2a" stroke-width="2"/>
<line x1="648.5" y1="901" x2="648.5" y2="950.2" stroke="#009a0e" stroke-width="1.8"/>
<rect x="644.6" y="901" width="7.8" height="21.8" fill="#009a0e"/>
<line x1="659.2" y1="896.25" x2="659.2" y2="904.8" stroke="#ff2a2a" stroke-width="1.9"/>
<line x1="659.2" y1="915.8" x2="659.2" y2="947" stroke="#ff2a2a" stroke-width="1.8"/>
<rect x="655.6" y="904.8" width="7.2" height="11.0" fill="none" stroke="#ff2a2a" stroke-width="2"/>
<line x1="669.9" y1="862.2" x2="669.9" y2="885.7" stroke="#ff2a2a" stroke-width="1.9"/>
<line x1="669.9" y1="912.4" x2="669.9" y2="919.5" stroke="#ff2a2a" stroke-width="1.8"/>
<rect x="666.3" y="885.7" width="7.2" height="26.7" fill="none" stroke="#ff2a2a" stroke-width="2"/>
<line x1="680.6" y1="827.7" x2="680.6" y2="835.6" stroke="#ff2a2a" stroke-width="1.9"/>
<line x1="680.6" y1="890.1" x2="680.6" y2="890.1" stroke="#ff2a2a" stroke-width="1.8"/>
<rect x="677.0" y="835.6" width="7.2" height="54.5" fill="none" stroke="#ff2a2a" stroke-width="2"/>
<line x1="691.4" y1="817.4" x2="691.4" y2="856.1" stroke="#009a0e" stroke-width="1.8"/>
<rect x="687.5" y="836.4" width="7.8" height="3.1" fill="#009a0e"/>
<line x1="702.1" y1="820.6" x2="702.1" y2="825.3" stroke="#ff2a2a" stroke-width="1.9"/>
<line x1="702.1" y1="844.3" x2="702.1" y2="863.2" stroke="#ff2a2a" stroke-width="1.8"/>
<rect x="698.5" y="825.3" width="7.2" height="19.0" fill="none" stroke="#ff2a2a" stroke-width="2"/>
<line x1="712.8" y1="809.5" x2="712.8" y2="842.7" stroke="#009a0e" stroke-width="1.8"/>
<rect x="708.9" y="826.1" width="7.8" height="13.4" fill="#009a0e"/>
<line x1="723.5" y1="835.6" x2="723.5" y2="879" stroke="#009a0e" stroke-width="1.8"/>
<rect x="719.6" y="841.1" width="7.8" height="25.3" fill="#009a0e"/>
<line x1="734.2" y1="839.5" x2="734.2" y2="859.3" stroke="#ff2a2a" stroke-width="1.9"/>
<line x1="734.2" y1="870.3" x2="734.2" y2="874.3" stroke="#ff2a2a" stroke-width="1.8"/>
<rect x="730.6" y="859.3" width="7.2" height="11.0" fill="none" stroke="#ff2a2a" stroke-width="2"/>
<line x1="745.0" y1="847.4" x2="745.0" y2="901.9" stroke="#009a0e" stroke-width="1.8"/>
<rect x="741.1" y="856.1" width="7.8" height="33.2" fill="#009a0e"/>
<line x1="755.7" y1="878.2" x2="755.7" y2="901.9" stroke="#4d5b6a" stroke-width="2"/>
<line x1="751.2" y1="892.6" x2="760.2" y2="892.6" stroke="#4d5b6a" stroke-width="2"/>
<line x1="766.4" y1="893.25" x2="766.4" y2="969.1" stroke="#009a0e" stroke-width="1.8"/>
<rect x="762.5" y="898" width="7.8" height="39.5" fill="#009a0e"/>
<line x1="777.1" y1="927.2" x2="777.1" y2="931.2" stroke="#ff2a2a" stroke-width="1.9"/>
<line x1="777.1" y1="950.1" x2="777.1" y2="969.1" stroke="#ff2a2a" stroke-width="1.8"/>
<rect x="773.5" y="931.2" width="7.2" height="18.9" fill="none" stroke="#ff2a2a" stroke-width="2"/>
<line x1="787.8" y1="919.3" x2="787.8" y2="928" stroke="#ff2a2a" stroke-width="1.9"/>
<line x1="787.8" y1="934.3" x2="787.8" y2="947" stroke="#ff2a2a" stroke-width="1.8"/>
<rect x="784.2" y="928" width="7.2" height="6.3" fill="none" stroke="#ff2a2a" stroke-width="2"/>
<line x1="798.6" y1="892.5" x2="798.6" y2="912.2" stroke="#ff2a2a" stroke-width="1.9"/>
<line x1="798.6" y1="927.2" x2="798.6" y2="943" stroke="#ff2a2a" stroke-width="1.8"/>
<rect x="795.0" y="912.2" width="7.2" height="15.0" fill="none" stroke="#ff2a2a" stroke-width="2"/>
<line x1="809.3" y1="890.1" x2="809.3" y2="897" stroke="#ff2a2a" stroke-width="1.9"/>
<line x1="809.3" y1="915.5" x2="809.3" y2="935.5" stroke="#ff2a2a" stroke-width="1.8"/>
<rect x="805.7" y="897" width="7.2" height="18.5" fill="none" stroke="#ff2a2a" stroke-width="2"/>
<line x1="820.0" y1="896.2" x2="820.0" y2="932" stroke="#009a0e" stroke-width="1.8"/>
<rect x="816.1" y="902.5" width="7.8" height="4.7" fill="#009a0e"/>
<line x1="830.7" y1="881.25" x2="830.7" y2="885.2" stroke="#ff2a2a" stroke-width="1.9"/>
<line x1="830.7" y1="920.3" x2="830.7" y2="925" stroke="#ff2a2a" stroke-width="1.8"/>
<rect x="827.1" y="885.2" width="7.2" height="35.1" fill="none" stroke="#ff2a2a" stroke-width="2"/>
<line x1="841.4" y1="877.3" x2="841.4" y2="909.4" stroke="#009a0e" stroke-width="1.8"/>
<rect x="837.5" y="893.75" width="7.8" height="6.2" fill="#009a0e"/>
<line x1="852.2" y1="907.8" x2="852.2" y2="966.4" stroke="#009a0e" stroke-width="1.8"/>
<rect x="848.3" y="912.5" width="7.8" height="48.4" fill="#009a0e"/>
<line x1="862.9" y1="933.6" x2="862.9" y2="946.1" stroke="#ff2a2a" stroke-width="1.9"/>
<line x1="862.9" y1="964.8" x2="862.9" y2="987.5" stroke="#ff2a2a" stroke-width="1.8"/>
<rect x="859.3" y="946.1" width="7.2" height="18.7" fill="none" stroke="#ff2a2a" stroke-width="2"/>
<line x1="873.6" y1="910.2" x2="873.6" y2="973.4" stroke="#009a0e" stroke-width="1.8"/>
<rect x="869.7" y="953.9" width="7.8" height="14.9" fill="#009a0e"/>
<line x1="884.3" y1="953" x2="884.3" y2="1011" stroke="#009a0e" stroke-width="1.8"/>
<rect x="880.4" y="976.6" width="7.8" height="29.6" fill="#009a0e"/>
<line x1="895.0" y1="945.3" x2="895.0" y2="945.3" stroke="#ff2a2a" stroke-width="1.9"/>
<line x1="895.0" y1="1010.9" x2="895.0" y2="1014.8" stroke="#ff2a2a" stroke-width="1.8"/>
<rect x="891.4" y="945.3" width="7.2" height="65.6" fill="none" stroke="#ff2a2a" stroke-width="2"/>
<line x1="905.8" y1="941.4" x2="905.8" y2="1003.1" stroke="#009a0e" stroke-width="1.8"/>
<rect x="901.9" y="953.9" width="7.8" height="37.5" fill="#009a0e"/>
<line x1="916.5" y1="953.9" x2="916.5" y2="961" stroke="#ff2a2a" stroke-width="1.9"/>
<line x1="916.5" y1="995.3" x2="916.5" y2="1046" stroke="#ff2a2a" stroke-width="1.8"/>
<rect x="912.9" y="961" width="7.2" height="34.3" fill="none" stroke="#ff2a2a" stroke-width="2"/>
<line x1="927.2" y1="971.9" x2="927.2" y2="1007.8" stroke="#009a0e" stroke-width="1.8"/>
<rect x="923.3" y="977.3" width="7.8" height="13.3" fill="#009a0e"/>
<line x1="937.9" y1="978.9" x2="937.9" y2="1014.8" stroke="#009a0e" stroke-width="1.8"/>
<rect x="934.0" y="1000" width="7.8" height="5.5" fill="#009a0e"/>
<line x1="948.6" y1="979.7" x2="948.6" y2="983.6" stroke="#ff2a2a" stroke-width="1.9"/>
<line x1="948.6" y1="1010.9" x2="948.6" y2="1014.8" stroke="#ff2a2a" stroke-width="1.8"/>
<rect x="945.0" y="983.6" width="7.2" height="27.3" fill="none" stroke="#ff2a2a" stroke-width="2"/>
<line x1="959.4" y1="971.9" x2="959.4" y2="979.7" stroke="#ff2a2a" stroke-width="1.9"/>
<line x1="959.4" y1="990.6" x2="959.4" y2="1003.1" stroke="#ff2a2a" stroke-width="1.8"/>
<rect x="955.8" y="979.7" width="7.2" height="10.9" fill="none" stroke="#ff2a2a" stroke-width="2"/>
<line x1="970.1" y1="960.2" x2="970.1" y2="964.6" stroke="#ff2a2a" stroke-width="1.9"/>
<line x1="970.1" y1="988" x2="970.1" y2="1003.8" stroke="#ff2a2a" stroke-width="1.8"/>
<rect x="966.5" y="964.6" width="7.2" height="23.4" fill="none" stroke="#ff2a2a" stroke-width="2"/>
<line x1="980.8" y1="963.4" x2="980.8" y2="1019" stroke="#009a0e" stroke-width="1.8"/>
<rect x="976.9" y="972.8" width="7.8" height="40.5" fill="#009a0e"/>
<line x1="991.5" y1="1009.5" x2="991.5" y2="1052" stroke="#009a0e" stroke-width="1.8"/>
<rect x="987.6" y="1017.7" width="7.8" height="26.5" fill="#009a0e"/>
<line x1="1002.2" y1="1032.2" x2="1002.2" y2="1079.6" stroke="#009a0e" stroke-width="1.8"/>
<rect x="998.3" y="1048" width="7.8" height="26.5" fill="#009a0e"/>
<line x1="10" y1="877" x2="1009" y2="877" stroke="#e0393e" stroke-width="2" stroke-dasharray="33 9"/>
<path d="M16.0,1265.9 L26.7,1262.7 L37.4,1259.6 L48.2,1256.4 L58.9,1253.2 L69.6,1250.1 L80.3,1247.2 L91.0,1244.4 L101.8,1241.4 L112.5,1238.2 L123.2,1234.6 L133.9,1230.8 L144.6,1226.9 L155.4,1223.1 L166.1,1219.2 L176.8,1215.2 L187.5,1211.0 L198.2,1206.5 L209.0,1202.0 L219.7,1197.3 L230.4,1192.6 L241.1,1187.9 L251.8,1183.1 L262.6,1178.3 L273.3,1173.7 L284.0,1169.2 L294.7,1164.7 L305.4,1160.3 L316.2,1155.8 L326.9,1151.2 L337.6,1146.3 L348.3,1141.1 L359.0,1135.3 L369.8,1128.6 L380.5,1121.6 L391.2,1114.9 L401.9,1108.7 L412.6,1102.5 L423.4,1095.9 L434.1,1088.4 L444.8,1079.7 L455.5,1069.9 L466.2,1059.6 L477.0,1049.3 L487.7,1039.5 L498.4,1029.7 L509.1,1020.5 L519.8,1012.6 L530.6,1005.5 L541.3,998.9 L552.0,992.1 L562.7,984.9 L573.4,977.6 L584.2,970.7 L594.9,964.7 L605.6,959.4 L616.3,954.5 L627.0,950.0 L637.8,945.8 L648.5,942.1 L659.2,937.4 L669.9,933.1 L680.6,928.1 L691.4,923.8 L702.1,919.8 L712.8,915.9 L723.5,912.0 L734.2,907.8 L745.0,904.2 L755.7,901.1 L766.4,899.1 L777.1,896.6 L787.8,893.6 L798.6,890.6 L809.3,887.4 L820.0,884.2 L830.7,881.1 L841.4,879.0 L852.2,878.1 L862.9,876.5 L873.6,875.5 L884.3,875.2 L895.0,874.2 L905.8,874.1 L916.5,873.7 L927.2,873.4 L937.9,874.0 L948.6,874.0 L959.4,874.6 L970.1,874.9 L980.8,876.5 L991.5,879.3 L1002.2,882.8" fill="none" stroke="#3fa63a" stroke-width="2" stroke-linejoin="round"/>
<path d="M16.0,1244.7 L26.7,1235.8 L37.4,1224.4 L48.2,1211.7 L58.9,1199.0 L69.6,1190.1 L80.3,1181.2 L91.0,1176.2 L101.8,1170.0 L112.5,1163.0 L123.2,1153.3 L133.9,1147.4 L144.6,1140.6 L155.4,1135.3 L166.1,1129.8 L176.8,1125.0 L187.5,1120.0 L198.2,1108.4 L209.0,1096.6 L219.7,1088.9 L230.4,1081.3 L241.1,1075.1 L251.8,1068.5 L262.6,1063.6 L273.3,1059.5 L284.0,1056.2 L294.7,1049.8 L305.4,1043.2 L316.2,1035.5 L326.9,1028.8 L337.6,1021.9 L348.3,1011.3 L359.0,999.2 L369.8,986.4 L380.5,971.6 L391.2,961.2 L401.9,952.2 L412.6,943.3 L423.4,933.8 L434.1,923.3 L444.8,910.0 L455.5,896.3 L466.2,884.0 L477.0,871.5 L487.7,857.5 L498.4,845.6 L509.1,834.3 L519.8,824.3 L530.6,816.7 L541.3,809.5 L552.0,803.2 L562.7,799.7 L573.4,798.9 L584.2,798.9 L594.9,803.0 L605.6,802.9 L616.3,802.1 L627.0,805.9 L637.8,809.4 L648.5,814.2 L659.2,821.0 L669.9,827.9 L680.6,831.6 L691.4,836.3 L702.1,842.4 L712.8,845.8 L723.5,851.8 L734.2,855.9 L745.0,860.6 L755.7,865.0 L766.4,872.3 L777.1,878.8 L787.8,882.6 L798.6,886.6 L809.3,887.4 L820.0,888.5 L830.7,888.9 L841.4,888.0 L852.2,891.0 L862.9,892.2 L873.6,895.4 L884.3,901.4 L895.0,906.9 L905.8,914.5 L916.5,921.3 L927.2,928.8 L937.9,935.8 L948.6,942.0 L959.4,946.5 L970.1,950.1 L980.8,953.9 L991.5,959.5 L1002.2,966.9" fill="none" stroke="#e040fb" stroke-width="2" stroke-linejoin="round"/>
<path d="M16.0,1213.0 L26.7,1205.0 L37.4,1196.5 L48.2,1183.8 L58.9,1168.5 L69.6,1161.0 L80.3,1150.8 L91.0,1135.5 L101.8,1120.3 L112.5,1109.8 L123.2,1096.9 L133.9,1090.8 L144.6,1087.8 L155.4,1087.4 L166.1,1090.0 L176.8,1092.2 L187.5,1089.6 L198.2,1080.5 L209.0,1072.2 L219.7,1068.0 L230.4,1065.8 L241.1,1059.4 L251.8,1049.3 L262.6,1039.9 L273.3,1029.0 L284.0,1020.2 L294.7,1010.1 L305.4,1005.9 L316.2,998.8 L326.9,989.7 L337.6,977.9 L348.3,963.1 L359.0,949.1 L369.8,932.8 L380.5,914.3 L391.2,902.2 L401.9,894.2 L412.6,880.6 L423.4,868.9 L434.1,856.8 L444.8,842.0 L455.5,829.6 L466.2,818.9 L477.0,810.2 L487.7,800.8 L498.4,789.0 L509.1,774.4 L519.8,767.9 L530.6,764.5 L541.3,762.2 L552.0,764.4 L562.7,769.7 L573.4,778.9 L584.2,787.5 L594.9,805.3 L605.6,816.7 L616.3,829.8 L627.0,843.8 L637.8,854.4 L648.5,866.1 L659.2,877.6 L669.9,886.0 L680.6,884.4 L691.4,885.1 L702.1,879.5 L712.8,875.0 L723.5,873.9 L734.2,867.9 L745.0,866.8 L755.7,863.8 L766.4,867.1 L777.1,871.6 L787.8,880.9 L798.6,888.1 L809.3,895.3 L820.0,902.1 L830.7,904.0 L841.4,908.0 L852.2,915.2 L862.9,920.5 L873.6,923.7 L884.3,931.2 L895.0,932.9 L905.8,940.8 L916.5,947.2 L927.2,955.5 L937.9,967.6 L948.6,975.9 L959.4,977.8 L970.1,979.7 L980.8,984.1 L991.5,987.9 L1002.2,1000.8" fill="none" stroke="#b8ae12" stroke-width="2" stroke-linejoin="round"/>
<path d="M16.0,1220.6 L26.7,1210.4 L37.4,1186.3 L48.2,1150.8 L58.9,1125.7 L69.6,1103.8 L80.3,1094.7 L91.0,1089.3 L101.8,1090.9 L112.5,1093.9 L123.2,1090.0 L133.9,1087.0 L144.6,1086.2 L155.4,1083.8 L166.1,1086.1 L176.8,1094.5 L187.5,1092.2 L198.2,1074.8 L209.0,1060.5 L219.7,1049.9 L230.4,1037.2 L241.1,1026.7 L251.8,1023.8 L262.6,1019.3 L273.3,1008.0 L284.0,1003.3 L294.7,993.5 L305.4,988.1 L316.2,978.2 L326.9,971.4 L337.6,952.5 L348.3,932.7 L359.0,910.1 L369.8,887.4 L380.5,857.2 L391.2,851.9 L401.9,855.7 L412.6,851.1 L423.4,850.3 L434.1,856.4 L444.8,832.2 L455.5,803.4 L466.2,786.7 L477.0,770.2 L487.7,745.2 L498.4,745.8 L509.1,745.3 L519.8,749.1 L530.6,758.9 L541.3,779.3 L552.0,783.1 L562.7,794.1 L573.4,808.7 L584.2,816.2 L594.9,831.4 L605.6,850.3 L616.3,865.5 L627.0,878.9 L637.8,892.5 L648.5,900.8 L659.2,904.8 L669.9,906.5 L680.6,889.8 L691.4,877.7 L702.1,858.2 L712.8,845.1 L723.5,841.3 L734.2,846.0 L745.0,856.0 L755.7,869.4 L766.4,889.0 L777.1,902.0 L787.8,915.7 L798.6,920.3 L809.3,921.2 L820.0,915.1 L830.7,905.9 L841.4,900.3 L852.2,910.1 L862.9,919.9 L873.6,932.2 L884.3,956.4 L895.0,965.5 L905.8,971.6 L916.5,974.5 L927.2,978.9 L937.9,978.8 L948.6,986.4 L959.4,984.1 L970.1,984.8 L980.8,989.3 L991.5,997.1 L1002.2,1015.2" fill="none" stroke="#56606c" stroke-width="2" stroke-linejoin="round"/>
<line x1="346.2" y1="856.4" x2="346.2" y2="819" stroke="#bdbdbd" stroke-width="2.2" stroke-dasharray="4.5 4"/>
<line x1="367.4" y1="814" x2="367.4" y2="777" stroke="#6e72b6" stroke-width="2.2" stroke-dasharray="4.5 4"/>
<line x1="443.7" y1="845" x2="443.7" y2="880.5" stroke="#bdbdbd" stroke-width="2.2" stroke-dasharray="4.5 4"/>
<line x1="454.2" y1="792.7" x2="454.2" y2="830" stroke="#bdbdbd" stroke-width="2.2" stroke-dasharray="4.5 4"/>
<line x1="485.9" y1="758.75" x2="485.9" y2="796.5" stroke="#6e72b6" stroke-width="2.2" stroke-dasharray="4.5 4"/>
<line x1="475.3" y1="780.2" x2="475.3" y2="817" stroke="#6e72b6" stroke-width="2.2" stroke-dasharray="4.5 4"/>
<line x1="496" y1="780.2" x2="496" y2="817" stroke="#e06068" stroke-width="2.2" stroke-dasharray="4.5 4"/>
<line x1="509.4" y1="780.2" x2="509.4" y2="817" stroke="#6e72b6" stroke-width="2.2" stroke-dasharray="4.5 4"/>
<line x1="519.8" y1="803.3" x2="519.8" y2="840.6" stroke="#e06068" stroke-width="2.2" stroke-dasharray="4.5 4"/>
<line x1="530.8" y1="834.5" x2="530.8" y2="872.6" stroke="#e06068" stroke-width="2.2" stroke-dasharray="4.5 4"/>
<line x1="572.3" y1="879" x2="572.3" y2="916.5" stroke="#e06068" stroke-width="2.2" stroke-dasharray="4.5 4"/>
<line x1="593.1" y1="890" x2="593.1" y2="926.7" stroke="#eda060" stroke-width="2.2" stroke-dasharray="4.5 4"/>
<line x1="648.4" y1="955.6" x2="648.4" y2="992.7" stroke="#e06068" stroke-width="2.2" stroke-dasharray="4.5 4"/>
<line x1="679.6" y1="898" x2="679.6" y2="935" stroke="#6e72b6" stroke-width="2.2" stroke-dasharray="4.5 4"/>
<line x1="669.3" y1="924.2" x2="669.3" y2="961.7" stroke="#6e72b6" stroke-width="2.2" stroke-dasharray="4.5 4"/>
<line x1="711.4" y1="798.5" x2="711.4" y2="761.2" stroke="#6e72b6" stroke-width="2.2" stroke-dasharray="4.5 4"/>
<line x1="743" y1="905.9" x2="743" y2="942.8" stroke="#e06068" stroke-width="2.2" stroke-dasharray="4.5 4"/>
<line x1="766.7" y1="971.5" x2="766.7" y2="1008.4000000000001" stroke="#e06068" stroke-width="2.2" stroke-dasharray="4.5 4"/>
<line x1="777.4" y1="973.8" x2="777.4" y2="1010.8" stroke="#e06068" stroke-width="2.2" stroke-dasharray="4.5 4"/>
<line x1="798" y1="882.2" x2="798" y2="845.3" stroke="#6e72b6" stroke-width="2.2" stroke-dasharray="4.5 4"/>
<line x1="850.5" y1="897.7" x2="850.5" y2="861" stroke="#e06068" stroke-width="2.2" stroke-dasharray="4.5 4"/>
<line x1="884.6" y1="947.7" x2="884.6" y2="911" stroke="#e06068" stroke-width="2.2" stroke-dasharray="4.5 4"/>
<line x1="861.1" y1="993" x2="861.1" y2="1029.7" stroke="#eda060" stroke-width="2.2" stroke-dasharray="4.5 4"/>
<line x1="916.6" y1="1050" x2="916.6" y2="1086.7" stroke="#eda060" stroke-width="2.2" stroke-dasharray="4.5 4"/>
<line x1="989.9" y1="1000.6" x2="989.9" y2="963.4" stroke="#e06068" stroke-width="2.2" stroke-dasharray="4.5 4"/>
<circle cx="346.2" cy="856.4" r="5.2" fill="#bdbdbd"/>
<circle cx="367.4" cy="814" r="5.2" fill="#6e72b6"/>
<circle cx="443.7" cy="845" r="5.2" fill="#bdbdbd"/>
<circle cx="454.2" cy="792.7" r="5.2" fill="#bdbdbd"/>
<circle cx="485.9" cy="758.75" r="5.2" fill="#6e72b6"/>
<circle cx="475.3" cy="780.2" r="5.2" fill="#6e72b6"/>
<circle cx="496" cy="780.2" r="5.2" fill="#e06068"/>
<circle cx="509.4" cy="780.2" r="5.2" fill="#6e72b6"/>
<circle cx="519.8" cy="803.3" r="5.2" fill="#e06068"/>
<circle cx="530.8" cy="834.5" r="5.2" fill="#e06068"/>
<circle cx="572.3" cy="879" r="5.2" fill="#e06068"/>
<circle cx="593.1" cy="890" r="5.2" fill="#eda060"/>
<circle cx="648.4" cy="955.6" r="5.2" fill="#e06068"/>
<circle cx="679.6" cy="898" r="5.2" fill="#6e72b6"/>
<circle cx="669.3" cy="924.2" r="5.2" fill="#6e72b6"/>
<circle cx="711.4" cy="798.5" r="5.2" fill="#6e72b6"/>
<circle cx="743" cy="905.9" r="5.2" fill="#e06068"/>
<circle cx="766.7" cy="971.5" r="5.2" fill="#e06068"/>
<circle cx="777.4" cy="973.8" r="5.2" fill="#e06068"/>
<circle cx="798" cy="882.2" r="5.2" fill="#6e72b6"/>
<circle cx="850.5" cy="897.7" r="5.2" fill="#e06068"/>
<circle cx="884.6" cy="947.7" r="5.2" fill="#e06068"/>
<circle cx="861.1" cy="993" r="5.2" fill="#eda060"/>
<circle cx="916.6" cy="1050" r="5.2" fill="#eda060"/>
<circle cx="989.9" cy="1000.6" r="5.2" fill="#e06068"/>
<rect x="328.6" y="783.0" width="36" height="36" rx="5" fill="#9a9a9a"/><text transform="translate(346.6,810.4) scale(0.88,1)" text-anchor="middle" font-size="29" fill="#fff" stroke="#9a9a9a" stroke-width="0.6" font-family="Liberation Sans, sans-serif">B</text>
<rect x="349.5" y="741.0" width="36" height="36" rx="5" fill="#4891f0"/><text transform="translate(367.5,768.4) scale(0.88,1)" text-anchor="middle" font-size="29" fill="#fff" stroke="#4891f0" stroke-width="0.6" font-family="Liberation Sans, sans-serif">S</text>
<rect x="425.7" y="880.5" width="36" height="36" rx="5" fill="#9a9a9a"/><text transform="translate(443.7,907.9) scale(0.88,1)" text-anchor="middle" font-size="29" fill="#fff" stroke="#9a9a9a" stroke-width="0.6" font-family="Liberation Sans, sans-serif">S</text>
<rect x="436.2" y="830.0" width="36" height="36" rx="5" fill="#9a9a9a"/><text transform="translate(454.2,857.4) scale(0.88,1)" text-anchor="middle" font-size="29" fill="#fff" stroke="#9a9a9a" stroke-width="0.6" font-family="Liberation Sans, sans-serif">B</text>
<rect x="467.5" y="796.5" width="36" height="36" rx="5" fill="#4891f0"/><text transform="translate(485.5,823.9) scale(0.88,1)" text-anchor="middle" font-size="29" fill="#fff" stroke="#4891f0" stroke-width="0.6" font-family="Liberation Sans, sans-serif">S</text>
<rect x="457.3" y="817.0" width="36" height="36" rx="5" fill="#4891f0"/><text transform="translate(475.3,844.4) scale(0.88,1)" text-anchor="middle" font-size="29" fill="#fff" stroke="#4891f0" stroke-width="0.6" font-family="Liberation Sans, sans-serif">S</text>
<rect x="478.0" y="817.0" width="36" height="36" rx="5" fill="#e5302f"/><text transform="translate(496.0,844.4) scale(0.88,1)" text-anchor="middle" font-size="29" fill="#fff" stroke="#e5302f" stroke-width="0.6" font-family="Liberation Sans, sans-serif">B</text>
<rect x="491.2" y="817.0" width="36" height="36" rx="5" fill="#4891f0"/><text transform="translate(509.2,844.4) scale(0.88,1)" text-anchor="middle" font-size="29" fill="#fff" stroke="#4891f0" stroke-width="0.6" font-family="Liberation Sans, sans-serif">S</text>
<rect x="501.5" y="840.6" width="36" height="36" rx="5" fill="#e5302f"/><text transform="translate(519.5,868.0) scale(0.88,1)" text-anchor="middle" font-size="29" fill="#fff" stroke="#e5302f" stroke-width="0.6" font-family="Liberation Sans, sans-serif">B</text>
<rect x="512.5" y="872.6" width="36" height="36" rx="5" fill="#e5302f"/><text transform="translate(530.5,900.0) scale(0.88,1)" text-anchor="middle" font-size="29" fill="#fff" stroke="#e5302f" stroke-width="0.6" font-family="Liberation Sans, sans-serif">B</text>
<rect x="554.3" y="916.5" width="36" height="36" rx="5" fill="#e5302f"/><text transform="translate(572.3,943.9) scale(0.88,1)" text-anchor="middle" font-size="29" fill="#fff" stroke="#e5302f" stroke-width="0.6" font-family="Liberation Sans, sans-serif">B</text>
<rect x="575.2" y="926.7" width="36" height="36" rx="5" fill="#f57a00"/><text transform="translate(593.2,954.1) scale(0.88,1)" text-anchor="middle" font-size="29" fill="#fff" stroke="#f57a00" stroke-width="0.6" font-family="Liberation Sans, sans-serif">T</text>
<rect x="630.5" y="992.7" width="36" height="36" rx="5" fill="#e5302f"/><text transform="translate(648.5,1020.1) scale(0.88,1)" text-anchor="middle" font-size="29" fill="#fff" stroke="#e5302f" stroke-width="0.6" font-family="Liberation Sans, sans-serif">B</text>
<rect x="662.0" y="935.0" width="36" height="36" rx="5" fill="#4891f0"/><text transform="translate(680.0,962.4) scale(0.88,1)" text-anchor="middle" font-size="29" fill="#fff" stroke="#4891f0" stroke-width="0.6" font-family="Liberation Sans, sans-serif">S</text>
<rect x="651.5" y="961.7" width="36" height="36" rx="5" fill="#4891f0"/><text transform="translate(669.5,989.1) scale(0.88,1)" text-anchor="middle" font-size="29" fill="#fff" stroke="#4891f0" stroke-width="0.6" font-family="Liberation Sans, sans-serif">S</text>
<rect x="693.4" y="725.2" width="36" height="36" rx="5" fill="#4891f0"/><text transform="translate(711.4,752.6) scale(0.88,1)" text-anchor="middle" font-size="29" fill="#fff" stroke="#4891f0" stroke-width="0.6" font-family="Liberation Sans, sans-serif">S</text>
<rect x="725.0" y="942.8" width="36" height="36" rx="5" fill="#e5302f"/><text transform="translate(743.0,970.2) scale(0.88,1)" text-anchor="middle" font-size="29" fill="#fff" stroke="#e5302f" stroke-width="0.6" font-family="Liberation Sans, sans-serif">B</text>
<rect x="747.5" y="1008.4" width="36" height="36" rx="5" fill="#e5302f"/><text transform="translate(765.5,1035.8) scale(0.88,1)" text-anchor="middle" font-size="29" fill="#fff" stroke="#e5302f" stroke-width="0.6" font-family="Liberation Sans, sans-serif"></text>
<rect x="759.7" y="1010.8" width="36" height="36" rx="5" fill="#e5302f"/><text transform="translate(777.7,1038.2) scale(0.88,1)" text-anchor="middle" font-size="29" fill="#fff" stroke="#e5302f" stroke-width="0.6" font-family="Liberation Sans, sans-serif">B</text>
<rect x="780.3" y="809.3" width="36" height="36" rx="5" fill="#4891f0"/><text transform="translate(798.3,836.7) scale(0.88,1)" text-anchor="middle" font-size="29" fill="#fff" stroke="#4891f0" stroke-width="0.6" font-family="Liberation Sans, sans-serif">S</text>
<rect x="832.5" y="825.0" width="36" height="36" rx="5" fill="#e5302f"/><text transform="translate(850.5,852.4) scale(0.88,1)" text-anchor="middle" font-size="29" fill="#fff" stroke="#e5302f" stroke-width="0.6" font-family="Liberation Sans, sans-serif">B</text>
<rect x="866.5" y="875.0" width="36" height="36" rx="5" fill="#e5302f"/><text transform="translate(884.5,902.4) scale(0.88,1)" text-anchor="middle" font-size="29" fill="#fff" stroke="#e5302f" stroke-width="0.6" font-family="Liberation Sans, sans-serif">B</text>
<rect x="843.2" y="1029.7" width="36" height="36" rx="5" fill="#f57a00"/><text transform="translate(861.2,1057.1) scale(0.88,1)" text-anchor="middle" font-size="29" fill="#fff" stroke="#f57a00" stroke-width="0.6" font-family="Liberation Sans, sans-serif">T</text>
<rect x="898.3" y="1086.7" width="36" height="36" rx="5" fill="#f57a00"/><text transform="translate(916.3,1114.1) scale(0.88,1)" text-anchor="middle" font-size="29" fill="#fff" stroke="#f57a00" stroke-width="0.6" font-family="Liberation Sans, sans-serif">T</text>
<rect x="971.6" y="927.4" width="36" height="36" rx="5" fill="#e5302f"/><text transform="translate(989.6,954.8) scale(0.88,1)" text-anchor="middle" font-size="29" fill="#fff" stroke="#e5302f" stroke-width="0.6" font-family="Liberation Sans, sans-serif">B</text>
<text x="454" y="1295.5" text-anchor="middle" font-size="25.5" font-weight="bold" fill="#e32b2f" font-family="Liberation Sans, sans-serif">S</text>
<rect x="10.5" y="1348.5" width="1002.5" height="246.5" fill="none" stroke="#e0e0e0" stroke-width="1.5"/>
<rect x="12.4" y="1564.7" width="7.2" height="29.8" fill="#fff" stroke="#ff2a2a" stroke-width="1.8"/>
<rect x="23.1" y="1568.5" width="7.2" height="26.0" fill="#fff" stroke="#ff2a2a" stroke-width="1.8"/>
<rect x="33.8" y="1543.2" width="7.2" height="51.3" fill="#fff" stroke="#ff2a2a" stroke-width="1.8"/>
<rect x="44.6" y="1570.6" width="7.2" height="23.9" fill="#fff" stroke="#ff2a2a" stroke-width="1.8"/>
<rect x="55.3" y="1543.2" width="7.2" height="51.3" fill="#fff" stroke="#ff2a2a" stroke-width="1.8"/>
<rect x="65.8" y="1549.8999999999999" width="7.6" height="44.6" fill="#009a0e"/>
<rect x="76.5" y="1558.8" width="7.6" height="35.7" fill="#009a0e"/>
<rect x="87.2" y="1554.8999999999999" width="7.6" height="39.6" fill="#009a0e"/>
<rect x="98.2" y="1572.3" width="7.2" height="22.2" fill="#fff" stroke="#ff2a2a" stroke-width="1.8"/>
<rect x="108.9" y="1568" width="7.2" height="26.5" fill="#fff" stroke="#ff2a2a" stroke-width="1.8"/>
<rect x="119.6" y="1561" width="7.2" height="33.5" fill="#fff" stroke="#ff2a2a" stroke-width="1.8"/>
<rect x="130.1" y="1561.3" width="7.6" height="33.2" fill="#009a0e"/>
<rect x="140.8" y="1562.6" width="7.6" height="31.9" fill="#009a0e"/>
<rect x="151.8" y="1571" width="7.2" height="23.5" fill="#fff" stroke="#ff2a2a" stroke-width="1.8"/>
<rect x="162.3" y="1572.1999999999998" width="7.6" height="22.3" fill="#009a0e"/>
<rect x="173.0" y="1570.6999999999998" width="7.6" height="23.8" fill="#009a0e"/>
<rect x="183.9" y="1570.6" width="7.2" height="23.9" fill="#fff" stroke="#ff2a2a" stroke-width="1.8"/>
<rect x="194.6" y="1558.9" width="7.2" height="35.6" fill="#fff" stroke="#ff2a2a" stroke-width="1.8"/>
<rect x="205.4" y="1569.8" width="7.2" height="24.7" fill="#fff" stroke="#ff2a2a" stroke-width="1.8"/>
<rect x="215.9" y="1562.1" width="7.6" height="32.4" fill="#009a0e"/>
<rect x="226.8" y="1575.7" width="7.2" height="18.8" fill="#fff" stroke="#ff2a2a" stroke-width="1.8"/>
<rect x="237.5" y="1562.5" width="7.2" height="32.0" fill="#fff" stroke="#ff2a2a" stroke-width="1.8"/>
<rect x="248.2" y="1555.8" width="7.2" height="38.7" fill="#fff" stroke="#ff2a2a" stroke-width="1.8"/>
<rect x="259.0" y="1570.6" width="7.2" height="23.9" fill="#fff" stroke="#ff2a2a" stroke-width="1.8"/>
<rect x="269.7" y="1564" width="7.2" height="30.5" fill="#fff" stroke="#ff2a2a" stroke-width="1.8"/>
<rect x="280.2" y="1542.8" width="7.6" height="51.7" fill="#009a0e"/>
<rect x="291.1" y="1570.6" width="7.2" height="23.9" fill="#fff" stroke="#ff2a2a" stroke-width="1.8"/>
<rect x="301.6" y="1563.8" width="7.6" height="30.7" fill="#009a0e"/>
<rect x="312.6" y="1569.8" width="7.2" height="24.7" fill="#fff" stroke="#ff2a2a" stroke-width="1.8"/>
<rect x="323.3" y="1561" width="7.2" height="33.5" fill="#fff" stroke="#ff2a2a" stroke-width="1.8"/>
<rect x="334.0" y="1555.8" width="7.2" height="38.7" fill="#fff" stroke="#ff2a2a" stroke-width="1.8"/>
<rect x="344.7" y="1538.6" width="7.2" height="55.9" fill="#fff" stroke="#ff2a2a" stroke-width="1.8"/>
<rect x="355.4" y="1547.7" width="7.2" height="46.8" fill="#fff" stroke="#ff2a2a" stroke-width="1.8"/>
<rect x="366.2" y="1545.2" width="7.2" height="49.3" fill="#fff" stroke="#ff2a2a" stroke-width="1.8"/>
<rect x="376.9" y="1533.5" width="7.2" height="61.0" fill="#fff" stroke="#ff2a2a" stroke-width="1.8"/>
<rect x="387.4" y="1474.1999999999998" width="7.6" height="120.3" fill="#009a0e"/>
<rect x="398.3" y="1525.4" width="7.2" height="69.1" fill="#fff" stroke="#ff2a2a" stroke-width="1.8"/>
<rect x="409.0" y="1550.8" width="7.2" height="43.7" fill="#fff" stroke="#ff2a2a" stroke-width="1.8"/>
<rect x="419.8" y="1541.9" width="7.2" height="52.6" fill="#fff" stroke="#ff2a2a" stroke-width="1.8"/>
<rect x="430.5" y="1554" width="7.2" height="40.5" fill="#fff" stroke="#ff2a2a" stroke-width="1.8"/>
<rect x="441.2" y="1541.9" width="7.2" height="52.6" fill="#fff" stroke="#ff2a2a" stroke-width="1.8"/>
<rect x="451.9" y="1522.8" width="7.2" height="71.7" fill="#fff" stroke="#ff2a2a" stroke-width="1.8"/>
<rect x="462.4" y="1519.3999999999999" width="7.6" height="75.1" fill="#009a0e"/>
<rect x="473.4" y="1536.8" width="7.2" height="57.7" fill="#fff" stroke="#ff2a2a" stroke-width="1.8"/>
<rect x="484.1" y="1496.2" width="7.2" height="98.3" fill="#fff" stroke="#ff2a2a" stroke-width="1.8"/>
<rect x="494.6" y="1425.3999999999999" width="7.6" height="169.1" fill="#009a0e"/>
<rect x="505.5" y="1490.3" width="7.2" height="104.2" fill="#fff" stroke="#ff2a2a" stroke-width="1.8"/>
<rect x="516.0" y="1486.3999999999999" width="7.6" height="108.1" fill="#009a0e"/>
<rect x="526.8" y="1463.5" width="7.6" height="131.0" fill="#009a0e"/>
<rect x="537.5" y="1514.3" width="7.6" height="80.2" fill="#009a0e"/>
<rect x="548.4" y="1498.7" width="7.2" height="95.8" fill="#fff" stroke="#ff2a2a" stroke-width="1.8"/>
<rect x="558.9" y="1480.0" width="7.6" height="114.5" fill="#009a0e"/>
<rect x="569.6" y="1395.5" width="7.6" height="199.0" fill="#009a0e"/>
<rect x="580.6" y="1462.4" width="7.2" height="132.1" fill="#fff" stroke="#ff2a2a" stroke-width="1.8"/>
<rect x="591.1" y="1430.5" width="7.6" height="164.0" fill="#009a0e"/>
<rect x="601.8" y="1477.0" width="7.6" height="117.5" fill="#009a0e"/>
<rect x="612.7" y="1492.4" width="7.2" height="102.1" fill="#fff" stroke="#ff2a2a" stroke-width="1.8"/>
<rect x="623.2" y="1467.3" width="7.6" height="127.2" fill="#009a0e"/>
<rect x="634.2" y="1444.9" width="7.2" height="149.6" fill="#fff" stroke="#ff2a2a" stroke-width="1.8"/>
<rect x="644.7" y="1446.3" width="7.6" height="148.2" fill="#009a0e"/>
<rect x="655.6" y="1470.8" width="7.2" height="123.7" fill="#fff" stroke="#ff2a2a" stroke-width="1.8"/>
<rect x="666.3" y="1446.7" width="7.2" height="147.8" fill="#fff" stroke="#ff2a2a" stroke-width="1.8"/>
<rect x="677.0" y="1449.7" width="7.2" height="144.8" fill="#fff" stroke="#ff2a2a" stroke-width="1.8"/>
<rect x="687.6" y="1471.6999999999998" width="7.6" height="122.8" fill="#009a0e"/>
<rect x="698.5" y="1494.9" width="7.2" height="99.6" fill="#fff" stroke="#ff2a2a" stroke-width="1.8"/>
<rect x="709.0" y="1517.3999999999999" width="7.6" height="77.1" fill="#009a0e"/>
<rect x="719.7" y="1465.6" width="7.6" height="128.9" fill="#009a0e"/>
<rect x="730.6" y="1496.9" width="7.2" height="97.6" fill="#fff" stroke="#ff2a2a" stroke-width="1.8"/>
<rect x="741.2" y="1425.3999999999999" width="7.6" height="169.1" fill="#009a0e"/>
<rect x="751.9" y="1494.3999999999999" width="7.6" height="100.1" fill="#009a0e"/>
<rect x="762.6" y="1392.6" width="7.6" height="201.9" fill="#009a0e"/>
<rect x="773.5" y="1469.8" width="7.2" height="124.7" fill="#fff" stroke="#ff2a2a" stroke-width="1.8"/>
<rect x="784.2" y="1503.8" width="7.2" height="90.7" fill="#fff" stroke="#ff2a2a" stroke-width="1.8"/>
<rect x="795.0" y="1482.4" width="7.2" height="112.1" fill="#fff" stroke="#ff2a2a" stroke-width="1.8"/>
<rect x="805.7" y="1457.7" width="7.2" height="136.8" fill="#fff" stroke="#ff2a2a" stroke-width="1.8"/>
<rect x="816.2" y="1451.0" width="7.6" height="143.5" fill="#009a0e"/>
<rect x="827.1" y="1446.2" width="7.2" height="148.3" fill="#fff" stroke="#ff2a2a" stroke-width="1.8"/>
<rect x="837.6" y="1511.1999999999998" width="7.6" height="83.3" fill="#009a0e"/>
<rect x="848.4" y="1467.0" width="7.6" height="127.5" fill="#009a0e"/>
<rect x="859.3" y="1471.1" width="7.2" height="123.4" fill="#fff" stroke="#ff2a2a" stroke-width="1.8"/>
<rect x="869.8" y="1450.3999999999999" width="7.6" height="144.1" fill="#009a0e"/>
<rect x="880.5" y="1436.8" width="7.6" height="157.7" fill="#009a0e"/>
<rect x="891.4" y="1348.6" width="7.2" height="245.9" fill="#fff" stroke="#ff2a2a" stroke-width="1.8"/>
<rect x="902.0" y="1447.5" width="7.6" height="147.0" fill="#009a0e"/>
<rect x="912.9" y="1416.8" width="7.2" height="177.7" fill="#fff" stroke="#ff2a2a" stroke-width="1.8"/>
<rect x="923.4" y="1454.1999999999998" width="7.6" height="140.3" fill="#009a0e"/>
<rect x="934.1" y="1489.8" width="7.6" height="104.7" fill="#009a0e"/>
<rect x="945.0" y="1477" width="7.2" height="117.5" fill="#fff" stroke="#ff2a2a" stroke-width="1.8"/>
<rect x="955.8" y="1485.8" width="7.2" height="108.7" fill="#fff" stroke="#ff2a2a" stroke-width="1.8"/>
<rect x="966.5" y="1438.2" width="7.2" height="156.3" fill="#fff" stroke="#ff2a2a" stroke-width="1.8"/>
<rect x="977.0" y="1418.0" width="7.6" height="176.5" fill="#009a0e"/>
<rect x="987.7" y="1404.1" width="7.6" height="190.4" fill="#009a0e"/>
<rect x="998.4" y="1446.1" width="7.6" height="148.4" fill="#009a0e"/>
<path d="M16.0,1562.3 L26.7,1562.9 L37.4,1561.0 L48.2,1561.9 L58.9,1560.0 L69.6,1558.9 L80.3,1558.7 L91.0,1558.0 L101.8,1559.1 L112.5,1559.7 L123.2,1559.3 L133.9,1558.7 L144.6,1560.7 L155.4,1560.8 L166.1,1563.7 L176.8,1565.8 L187.5,1566.9 L198.2,1567.2 L209.0,1567.0 L219.7,1566.5 L230.4,1567.9 L241.1,1568.0 L251.8,1567.2 L262.6,1567.2 L273.3,1566.2 L284.0,1563.5 L294.7,1563.5 L305.4,1564.0 L316.2,1564.0 L326.9,1563.8 L337.6,1561.8 L348.3,1559.5 L359.0,1558.7 L369.8,1556.1 L380.5,1553.1 L391.2,1546.2 L401.9,1541.7 L412.6,1540.3 L423.4,1537.5 L434.1,1536.8 L444.8,1535.4 L455.5,1533.8 L466.2,1531.1 L477.0,1530.2 L487.7,1526.5 L498.4,1521.6 L509.1,1518.1 L519.8,1511.8 L530.6,1504.0 L541.3,1500.2 L552.0,1495.8 L562.7,1491.6 L573.4,1479.2 L584.2,1471.8 L594.9,1465.3 L605.6,1470.5 L616.3,1470.7 L627.0,1468.8 L637.8,1466.8 L648.5,1460.0 L659.2,1457.2 L669.9,1453.8 L680.6,1459.2 L691.4,1460.2 L702.1,1466.5 L712.8,1470.6 L723.5,1468.0 L734.2,1470.8 L745.0,1469.0 L755.7,1473.8 L766.4,1466.1 L777.1,1468.4 L787.8,1473.8 L798.6,1474.8 L809.3,1471.0 L820.0,1464.4 L830.7,1462.4 L841.4,1463.9 L852.2,1468.1 L862.9,1465.6 L873.6,1471.4 L884.3,1468.2 L895.0,1452.7 L905.8,1449.3 L916.5,1445.2 L927.2,1445.5 L937.9,1450.0 L948.6,1446.5 L959.4,1448.2 L970.1,1445.0 L980.8,1441.7 L991.5,1438.5 L1002.2,1448.3" fill="none" stroke="#25b6de" stroke-width="2"/>
<path d="M16.0,1562.5 L26.7,1563.8 L37.4,1560.1 L48.2,1561.8 L58.9,1558.0 L69.6,1555.3 L80.3,1553.5 L91.0,1556.0 L101.8,1556.4 L112.5,1561.3 L123.2,1563.4 L133.9,1563.9 L144.6,1565.4 L155.4,1565.1 L166.1,1566.2 L176.8,1568.3 L187.5,1570.0 L198.2,1569.0 L209.0,1568.8 L219.7,1566.8 L230.4,1567.6 L241.1,1566.0 L251.8,1565.4 L262.6,1565.5 L273.3,1565.7 L284.0,1559.3 L294.7,1560.9 L305.4,1562.7 L316.2,1562.6 L326.9,1562.0 L337.6,1564.4 L348.3,1558.0 L359.0,1554.6 L369.8,1549.7 L380.5,1544.2 L391.2,1528.0 L401.9,1525.4 L412.6,1526.0 L423.4,1525.3 L434.1,1529.4 L444.8,1542.8 L455.5,1542.3 L466.2,1536.2 L477.0,1535.2 L487.7,1523.6 L498.4,1500.5 L509.1,1494.0 L519.8,1487.4 L530.6,1472.9 L541.3,1476.7 L552.0,1491.2 L562.7,1489.3 L573.4,1471.1 L584.2,1470.7 L594.9,1454.0 L605.6,1449.8 L616.3,1452.1 L627.0,1466.5 L637.8,1463.0 L648.5,1466.1 L659.2,1464.7 L669.9,1455.6 L680.6,1451.9 L691.4,1457.4 L702.1,1466.9 L712.8,1476.4 L723.5,1480.4 L734.2,1489.8 L745.0,1480.6 L755.7,1480.7 L766.4,1455.7 L777.1,1456.4 L787.8,1457.7 L798.6,1469.0 L809.3,1461.4 L820.0,1473.1 L830.7,1468.4 L841.4,1470.1 L852.2,1467.2 L862.9,1469.8 L873.6,1469.7 L884.3,1468.0 L895.0,1435.3 L905.8,1431.4 L916.5,1420.6 L927.2,1421.3 L937.9,1431.9 L948.6,1457.6 L959.4,1465.1 L970.1,1469.4 L980.8,1462.1 L991.5,1445.0 L1002.2,1439.0" fill="none" stroke="#4aa631" stroke-width="2"/>
<rect x="10.5" y="1648.5" width="1002.5" height="246.5" fill="none" stroke="#e0e0e0" stroke-width="1.5"/>
<path d="M16.0,1845.1 L26.7,1843.8 L37.4,1841.8 L48.2,1838.6 L58.9,1836.7 L69.6,1838.2 L80.3,1836.3 L91.0,1837.0 L101.8,1838.5 L112.5,1838.5 L123.2,1838.7 L133.9,1837.8 L144.6,1838.4 L155.4,1840.2 L166.1,1841.5 L176.8,1845.6 L187.5,1849.0 L198.2,1846.3 L209.0,1850.5 L219.7,1849.9 L230.4,1854.8 L241.1,1855.6 L251.8,1851.6 L262.6,1853.9 L273.3,1856.2 L284.0,1856.5 L294.7,1854.7 L305.4,1856.0 L316.2,1856.4 L326.9,1855.9 L337.6,1854.0 L348.3,1852.5 L359.0,1849.1 L369.8,1844.3 L380.5,1838.0 L391.2,1822.1 L401.9,1825.6 L412.6,1819.3 L423.4,1817.9 L434.1,1818.8 L444.8,1812.2 L455.5,1809.6 L466.2,1808.7 L477.0,1805.3 L487.7,1799.9 L498.4,1797.5 L509.1,1791.0 L519.8,1790.8 L530.6,1792.1 L541.3,1808.5 L552.0,1808.4 L562.7,1813.1 L573.4,1806.5 L584.2,1803.5 L594.9,1809.0 L605.6,1810.6 L616.3,1811.3 L627.0,1809.7 L637.8,1813.5 L648.5,1822.2 L659.2,1828.6 L669.9,1830.3 L680.6,1829.0 L691.4,1827.8 L702.1,1827.2 L712.8,1828.5 L723.5,1834.1 L734.2,1838.5 L745.0,1838.8 L755.7,1840.5 L766.4,1833.6 L777.1,1836.7 L787.8,1841.8 L798.6,1841.7 L809.3,1842.7 L820.0,1846.6 L830.7,1850.0 L841.4,1851.3 L852.2,1846.9 L862.9,1843.1 L873.6,1839.5 L884.3,1835.2 L895.0,1832.4 L905.8,1825.5 L916.5,1822.6 L927.2,1821.7 L937.9,1820.2 L948.6,1823.0 L959.4,1825.6 L970.1,1824.2 L980.8,1822.0 L991.5,1820.1 L1002.2,1823.6" fill="none" stroke="#b9b000" stroke-width="2"/>
<path d="M16.0,1837.5 L26.7,1827.0 L37.4,1818.5 L48.2,1800.7 L58.9,1818.2 L69.6,1867.6 L80.3,1818.2 L91.0,1856.5 L101.8,1866.3 L112.5,1846.2 L123.2,1847.3 L133.9,1833.1 L144.6,1855.2 L155.4,1870.9 L166.1,1855.2 L176.8,1885.0 L187.5,1865.8 L198.2,1761.9 L209.0,1877.8 L219.7,1858.6 L230.4,1886.6 L241.1,1868.6 L251.8,1810.0 L262.6,1878.1 L273.3,1879.6 L284.0,1837.5 L294.7,1830.6 L305.4,1888.6 L316.2,1860.6 L326.9,1877.8 L337.6,1839.6 L348.3,1741.1 L359.0,1830.6 L369.8,1790.2 L380.5,1798.9 L391.2,1649.0 L401.9,1858.1 L412.6,1790.1 L423.4,1860.5 L434.1,1850.2 L444.8,1737.5 L455.5,1852.4 L466.2,1848.5 L477.0,1830.3 L487.7,1763.5 L498.4,1708.0 L509.1,1739.1 L519.8,1788.2 L530.6,1816.3 L541.3,1876.6 L552.0,1856.5 L562.7,1856.5 L573.4,1767.8 L584.2,1808.2 L594.9,1814.4 L605.6,1874.5 L616.3,1858.3 L627.0,1808.2 L637.8,1816.2 L648.5,1830.3 L659.2,1828.4 L669.9,1811.5 L680.6,1798.4 L691.4,1859.3 L702.1,1849.3 L712.8,1873.5 L723.5,1847.3 L734.2,1869.4 L745.0,1818.7 L755.7,1897.9 L766.4,1762.2 L777.1,1851.1 L787.8,1887.6 L798.6,1829.0 L809.3,1842.1 L820.0,1866.8 L830.7,1846.4 L841.4,1876.3 L852.2,1788.2 L862.9,1820.3 L873.6,1796.4 L884.3,1809.7 L895.0,1780.2 L905.8,1800.2 L916.5,1722.1 L927.2,1838.5 L937.9,1866.5 L948.6,1868.6 L959.4,1878.6 L970.1,1846.7 L980.8,1815.9 L991.5,1849.6 L1002.2,1837.0" fill="none" stroke="#4f5b68" stroke-width="2" stroke-linejoin="miter"/>
</svg>
</body></html>
